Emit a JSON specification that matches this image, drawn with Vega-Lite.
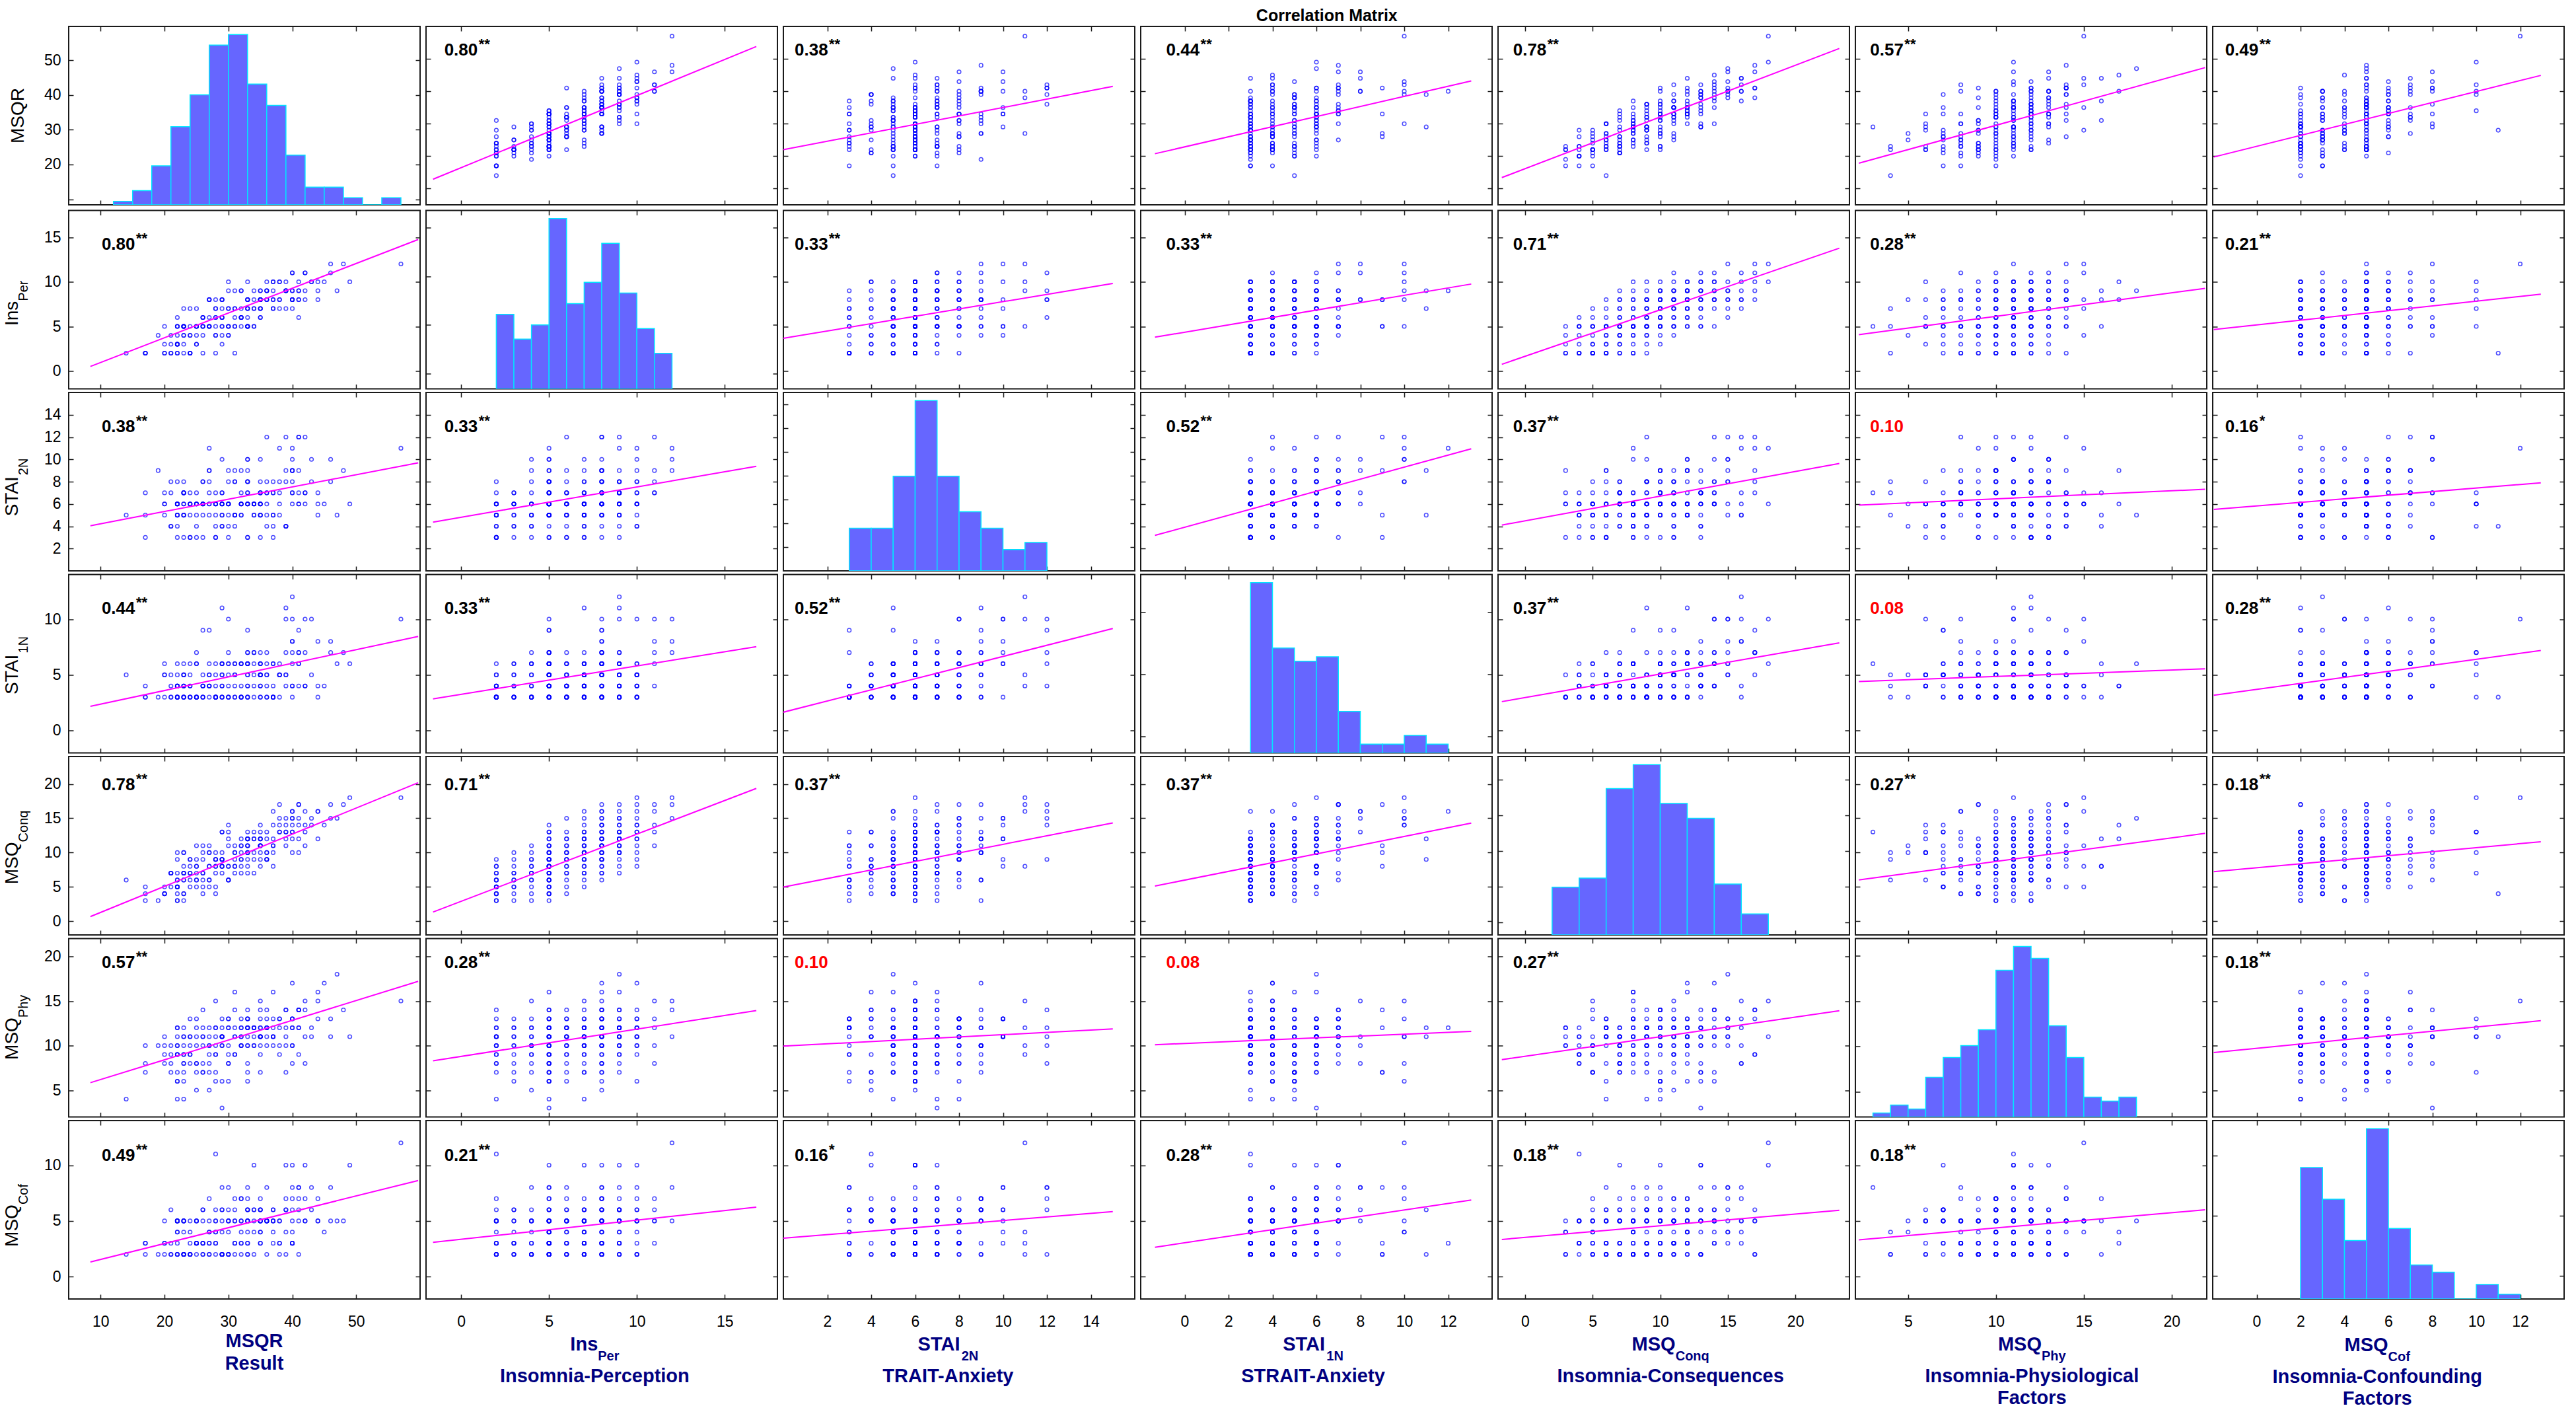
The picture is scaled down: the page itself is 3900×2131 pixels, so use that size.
{
"$schema":"https://vega.github.io/schema/vega-lite/v6.json",
"background":"#FFFFFF",
"padding":{"left":3,"top":12,"right":5,"bottom":0},
"title":{"text":"Correlation Matrix","fontSize":25,"fontWeight":"bold","font":"Liberation Sans","color":"#000000","anchor":"middle","dx":65,"offset":1},
"datasets":{"d":[
{"MSQR":17,"Ins":2,"S2":3,"S1":3,"Conq":3,"Phy":10,"Cof":2},
{"MSQR":22,"Ins":2,"S2":6,"S1":3,"Conq":3,"Phy":12,"Cof":5},
{"MSQR":17,"Ins":2,"S2":5,"S1":4,"Conq":4,"Phy":8,"Cof":3},
{"MSQR":28,"Ins":2,"S2":4,"S1":3,"Conq":4,"Phy":11,"Cof":11},
{"MSQR":20,"Ins":2,"S2":6,"S1":5,"Conq":4,"Phy":9,"Cof":5},
{"MSQR":24,"Ins":2,"S2":3,"S1":3,"Conq":5,"Phy":13,"Cof":4},
{"MSQR":20,"Ins":2,"S2":5,"S1":3,"Conq":5,"Phy":11,"Cof":2},
{"MSQR":17,"Ins":2,"S2":7,"S1":3,"Conq":5,"Phy":7,"Cof":3},
{"MSQR":22,"Ins":2,"S2":6,"S1":4,"Conq":5,"Phy":10,"Cof":5},
{"MSQR":26,"Ins":2,"S2":3,"S1":4,"Conq":6,"Phy":12,"Cof":6},
{"MSQR":14,"Ins":2,"S2":5,"S1":5,"Conq":6,"Phy":4,"Cof":2},
{"MSQR":24,"Ins":2,"S2":6,"S1":3,"Conq":6,"Phy":11,"Cof":5},
{"MSQR":21,"Ins":2,"S2":4,"S1":4,"Conq":7,"Phy":9,"Cof":3},
{"MSQR":21,"Ins":2,"S2":8,"S1":3,"Conq":7,"Phy":10,"Cof":2},
{"MSQR":31,"Ins":2,"S2":5,"S1":3,"Conq":8,"Phy":14,"Cof":7},
{"MSQR":23,"Ins":2,"S2":6,"S1":6,"Conq":8,"Phy":8,"Cof":5},
{"MSQR":24,"Ins":2,"S2":3,"S1":3,"Conq":9,"Phy":11,"Cof":2},
{"MSQR":22,"Ins":3,"S2":6,"S1":3,"Conq":3,"Phy":12,"Cof":4},
{"MSQR":20,"Ins":3,"S2":7,"S1":6,"Conq":4,"Phy":10,"Cof":3},
{"MSQR":21,"Ins":3,"S2":4,"S1":5,"Conq":5,"Phy":7,"Cof":6},
{"MSQR":22,"Ins":3,"S2":5,"S1":3,"Conq":5,"Phy":9,"Cof":5},
{"MSQR":22,"Ins":3,"S2":6,"S1":4,"Conq":6,"Phy":11,"Cof":2},
{"MSQR":25,"Ins":3,"S2":3,"S1":3,"Conq":6,"Phy":13,"Cof":3},
{"MSQR":22,"Ins":3,"S2":6,"S1":3,"Conq":7,"Phy":10,"Cof":2},
{"MSQR":23,"Ins":3,"S2":7,"S1":4,"Conq":7,"Phy":8,"Cof":5},
{"MSQR":25,"Ins":3,"S2":5,"S1":6,"Conq":8,"Phy":12,"Cof":2},
{"MSQR":29,"Ins":3,"S2":4,"S1":3,"Conq":9,"Phy":11,"Cof":6},
{"MSQR":22,"Ins":3,"S2":6,"S1":5,"Conq":10,"Phy":6,"Cof":3},
{"MSQR":19,"Ins":4,"S2":9,"S1":3,"Conq":3,"Phy":10,"Cof":2},
{"MSQR":22,"Ins":4,"S2":5,"S1":4,"Conq":4,"Phy":9,"Cof":5},
{"MSQR":28,"Ins":4,"S2":6,"S1":3,"Conq":5,"Phy":15,"Cof":4},
{"MSQR":23,"Ins":4,"S2":8,"S1":5,"Conq":6,"Phy":11,"Cof":2},
{"MSQR":30,"Ins":4,"S2":3,"S1":7,"Conq":6,"Phy":12,"Cof":8},
{"MSQR":23,"Ins":4,"S2":5,"S1":5,"Conq":7,"Phy":7,"Cof":5},
{"MSQR":24,"Ins":4,"S2":6,"S1":6,"Conq":7,"Phy":10,"Cof":3},
{"MSQR":21,"Ins":4,"S2":7,"S1":3,"Conq":7,"Phy":8,"Cof":2},
{"MSQR":30,"Ins":4,"S2":4,"S1":6,"Conq":8,"Phy":13,"Cof":5},
{"MSQR":29,"Ins":4,"S2":10,"S1":6,"Conq":8,"Phy":11,"Cof":6},
{"MSQR":24,"Ins":4,"S2":6,"S1":4,"Conq":9,"Phy":9,"Cof":2},
{"MSQR":28,"Ins":4,"S2":5,"S1":3,"Conq":9,"Phy":12,"Cof":3},
{"MSQR":26,"Ins":4,"S2":6,"S1":3,"Conq":10,"Phy":10,"Cof":2},
{"MSQR":25,"Ins":4,"S2":4,"S1":3,"Conq":11,"Phy":5,"Cof":5},
{"MSQR":23,"Ins":5,"S2":7,"S1":5,"Conq":3,"Phy":11,"Cof":4},
{"MSQR":20,"Ins":5,"S2":6,"S1":5,"Conq":4,"Phy":8,"Cof":3},
{"MSQR":23,"Ins":5,"S2":3,"S1":3,"Conq":4,"Phy":12,"Cof":2},
{"MSQR":23,"Ins":5,"S2":5,"S1":4,"Conq":4,"Phy":9,"Cof":5},
{"MSQR":27,"Ins":5,"S2":8,"S1":6,"Conq":5,"Phy":10,"Cof":7},
{"MSQR":26,"Ins":5,"S2":6,"S1":4,"Conq":5,"Phy":14,"Cof":2},
{"MSQR":22,"Ins":5,"S2":5,"S1":6,"Conq":5,"Phy":7,"Cof":5},
{"MSQR":25,"Ins":5,"S2":6,"S1":3,"Conq":6,"Phy":11,"Cof":3},
{"MSQR":30,"Ins":5,"S2":9,"S1":5,"Conq":6,"Phy":13,"Cof":6},
{"MSQR":23,"Ins":5,"S2":7,"S1":3,"Conq":6,"Phy":10,"Cof":2},
{"MSQR":22,"Ins":5,"S2":4,"S1":4,"Conq":6,"Phy":6,"Cof":5},
{"MSQR":34,"Ins":5,"S2":6,"S1":7,"Conq":7,"Phy":12,"Cof":10},
{"MSQR":23,"Ins":5,"S2":5,"S1":3,"Conq":7,"Phy":9,"Cof":2},
{"MSQR":26,"Ins":5,"S2":8,"S1":3,"Conq":7,"Phy":11,"Cof":3},
{"MSQR":25,"Ins":5,"S2":6,"S1":6,"Conq":7,"Phy":8,"Cof":5},
{"MSQR":27,"Ins":5,"S2":11,"S1":4,"Conq":8,"Phy":10,"Cof":4},
{"MSQR":31,"Ins":5,"S2":5,"S1":5,"Conq":8,"Phy":16,"Cof":2},
{"MSQR":33,"Ins":5,"S2":3,"S1":9,"Conq":8,"Phy":12,"Cof":8},
{"MSQR":25,"Ins":5,"S2":6,"S1":3,"Conq":8,"Phy":7,"Cof":5},
{"MSQR":27,"Ins":5,"S2":7,"S1":4,"Conq":8,"Phy":11,"Cof":3},
{"MSQR":24,"Ins":5,"S2":5,"S1":4,"Conq":8,"Phy":9,"Cof":2},
{"MSQR":33,"Ins":5,"S2":10,"S1":3,"Conq":9,"Phy":13,"Cof":6},
{"MSQR":29,"Ins":5,"S2":6,"S1":5,"Conq":9,"Phy":10,"Cof":5},
{"MSQR":22,"Ins":5,"S2":8,"S1":4,"Conq":9,"Phy":4,"Cof":4},
{"MSQR":28,"Ins":5,"S2":6,"S1":3,"Conq":9,"Phy":12,"Cof":2},
{"MSQR":25,"Ins":5,"S2":7,"S1":7,"Conq":9,"Phy":8,"Cof":3},
{"MSQR":31,"Ins":5,"S2":5,"S1":6,"Conq":10,"Phy":11,"Cof":5},
{"MSQR":23,"Ins":5,"S2":6,"S1":4,"Conq":10,"Phy":6,"Cof":2},
{"MSQR":32,"Ins":5,"S2":9,"S1":6,"Conq":10,"Phy":10,"Cof":7},
{"MSQR":33,"Ins":5,"S2":7,"S1":5,"Conq":10,"Phy":14,"Cof":4},
{"MSQR":27,"Ins":5,"S2":6,"S1":5,"Conq":11,"Phy":9,"Cof":2},
{"MSQR":33,"Ins":5,"S2":8,"S1":7,"Conq":11,"Phy":12,"Cof":5},
{"MSQR":26,"Ins":5,"S2":5,"S1":9,"Conq":11,"Phy":7,"Cof":3},
{"MSQR":34,"Ins":5,"S2":6,"S1":7,"Conq":12,"Phy":11,"Cof":6},
{"MSQR":33,"Ins":5,"S2":10,"S1":6,"Conq":12,"Phy":13,"Cof":3},
{"MSQR":29,"Ins":5,"S2":7,"S1":6,"Conq":13,"Phy":3,"Cof":8},
{"MSQR":30,"Ins":5,"S2":6,"S1":6,"Conq":13,"Phy":8,"Cof":4},
{"MSQR":30,"Ins":5,"S2":8,"S1":10,"Conq":14,"Phy":6,"Cof":5},
{"MSQR":26,"Ins":6,"S2":6,"S1":3,"Conq":4,"Phy":11,"Cof":5},
{"MSQR":22,"Ins":6,"S2":3,"S1":3,"Conq":5,"Phy":9,"Cof":2},
{"MSQR":27,"Ins":6,"S2":5,"S1":4,"Conq":6,"Phy":12,"Cof":3},
{"MSQR":28,"Ins":6,"S2":7,"S1":3,"Conq":7,"Phy":10,"Cof":5},
{"MSQR":26,"Ins":6,"S2":6,"S1":5,"Conq":7,"Phy":7,"Cof":6},
{"MSQR":29,"Ins":6,"S2":4,"S1":3,"Conq":8,"Phy":13,"Cof":2},
{"MSQR":29,"Ins":6,"S2":6,"S1":4,"Conq":8,"Phy":11,"Cof":4},
{"MSQR":32,"Ins":6,"S2":5,"S1":3,"Conq":9,"Phy":12,"Cof":5},
{"MSQR":26,"Ins":6,"S2":8,"S1":4,"Conq":9,"Phy":8,"Cof":3},
{"MSQR":32,"Ins":6,"S2":6,"S1":3,"Conq":9,"Phy":10,"Cof":7},
{"MSQR":35,"Ins":6,"S2":5,"S1":5,"Conq":10,"Phy":14,"Cof":5},
{"MSQR":29,"Ins":6,"S2":7,"S1":6,"Conq":10,"Phy":11,"Cof":2},
{"MSQR":28,"Ins":6,"S2":3,"S1":4,"Conq":10,"Phy":6,"Cof":6},
{"MSQR":32,"Ins":6,"S2":6,"S1":6,"Conq":11,"Phy":12,"Cof":3},
{"MSQR":31,"Ins":6,"S2":9,"S1":5,"Conq":11,"Phy":9,"Cof":5},
{"MSQR":32,"Ins":6,"S2":5,"S1":3,"Conq":12,"Phy":10,"Cof":4},
{"MSQR":33,"Ins":6,"S2":6,"S1":7,"Conq":12,"Phy":13,"Cof":2},
{"MSQR":35,"Ins":6,"S2":7,"S1":4,"Conq":13,"Phy":11,"Cof":5},
{"MSQR":41,"Ins":6,"S2":12,"S1":6,"Conq":15,"Phy":12,"Cof":8},
{"MSQR":25,"Ins":7,"S2":6,"S1":3,"Conq":5,"Phy":10,"Cof":3},
{"MSQR":30,"Ins":7,"S2":5,"S1":4,"Conq":6,"Phy":12,"Cof":5},
{"MSQR":24,"Ins":7,"S2":7,"S1":5,"Conq":7,"Phy":8,"Cof":2},
{"MSQR":31,"Ins":7,"S2":4,"S1":4,"Conq":7,"Phy":11,"Cof":6},
{"MSQR":35,"Ins":7,"S2":6,"S1":4,"Conq":8,"Phy":15,"Cof":5},
{"MSQR":28,"Ins":7,"S2":3,"S1":3,"Conq":8,"Phy":9,"Cof":4},
{"MSQR":31,"Ins":7,"S2":8,"S1":3,"Conq":9,"Phy":12,"Cof":3},
{"MSQR":29,"Ins":7,"S2":5,"S1":11,"Conq":9,"Phy":11,"Cof":2},
{"MSQR":28,"Ins":7,"S2":6,"S1":5,"Conq":9,"Phy":7,"Cof":5},
{"MSQR":40,"Ins":7,"S2":6,"S1":3,"Conq":10,"Phy":13,"Cof":10},
{"MSQR":33,"Ins":7,"S2":9,"S1":6,"Conq":10,"Phy":10,"Cof":6},
{"MSQR":34,"Ins":7,"S2":5,"S1":5,"Conq":10,"Phy":12,"Cof":5},
{"MSQR":23,"Ins":7,"S2":7,"S1":3,"Conq":10,"Phy":4,"Cof":2},
{"MSQR":32,"Ins":7,"S2":6,"S1":6,"Conq":11,"Phy":11,"Cof":3},
{"MSQR":39,"Ins":7,"S2":4,"S1":5,"Conq":11,"Phy":14,"Cof":7},
{"MSQR":33,"Ins":7,"S2":8,"S1":6,"Conq":11,"Phy":10,"Cof":5},
{"MSQR":35,"Ins":7,"S2":5,"S1":6,"Conq":12,"Phy":12,"Cof":4},
{"MSQR":30,"Ins":7,"S2":6,"S1":3,"Conq":12,"Phy":9,"Cof":2},
{"MSQR":35,"Ins":7,"S2":10,"S1":7,"Conq":12,"Phy":11,"Cof":5},
{"MSQR":34,"Ins":7,"S2":6,"S1":4,"Conq":13,"Phy":12,"Cof":2},
{"MSQR":33,"Ins":7,"S2":3,"S1":4,"Conq":13,"Phy":7,"Cof":6},
{"MSQR":37,"Ins":7,"S2":7,"S1":4,"Conq":14,"Phy":11,"Cof":5},
{"MSQR":38,"Ins":7,"S2":6,"S1":5,"Conq":15,"Phy":13,"Cof":3},
{"MSQR":37,"Ins":7,"S2":5,"S1":3,"Conq":16,"Phy":10,"Cof":4},
{"MSQR":27,"Ins":8,"S2":9,"S1":3,"Conq":6,"Phy":8,"Cof":5},
{"MSQR":29,"Ins":8,"S2":6,"S1":3,"Conq":7,"Phy":12,"Cof":2},
{"MSQR":33,"Ins":8,"S2":7,"S1":6,"Conq":7,"Phy":11,"Cof":7},
{"MSQR":37,"Ins":8,"S2":4,"S1":6,"Conq":8,"Phy":16,"Cof":5},
{"MSQR":28,"Ins":8,"S2":6,"S1":6,"Conq":8,"Phy":9,"Cof":3},
{"MSQR":35,"Ins":8,"S2":8,"S1":5,"Conq":9,"Phy":12,"Cof":6},
{"MSQR":29,"Ins":8,"S2":5,"S1":4,"Conq":9,"Phy":10,"Cof":2},
{"MSQR":36,"Ins":8,"S2":7,"S1":3,"Conq":9,"Phy":14,"Cof":5},
{"MSQR":36,"Ins":8,"S2":12,"S1":4,"Conq":9,"Phy":11,"Cof":8},
{"MSQR":27,"Ins":8,"S2":6,"S1":5,"Conq":10,"Phy":5,"Cof":4},
{"MSQR":36,"Ins":8,"S2":8,"S1":7,"Conq":10,"Phy":13,"Cof":5},
{"MSQR":33,"Ins":8,"S2":6,"S1":3,"Conq":10,"Phy":12,"Cof":3},
{"MSQR":27,"Ins":8,"S2":9,"S1":9,"Conq":10,"Phy":7,"Cof":2},
{"MSQR":35,"Ins":8,"S2":5,"S1":5,"Conq":11,"Phy":10,"Cof":6},
{"MSQR":35,"Ins":8,"S2":6,"S1":3,"Conq":11,"Phy":11,"Cof":5},
{"MSQR":35,"Ins":8,"S2":3,"S1":3,"Conq":11,"Phy":13,"Cof":3},
{"MSQR":35,"Ins":8,"S2":7,"S1":5,"Conq":11,"Phy":9,"Cof":7},
{"MSQR":33,"Ins":8,"S2":6,"S1":4,"Conq":11,"Phy":12,"Cof":2},
{"MSQR":33,"Ins":8,"S2":8,"S1":3,"Conq":12,"Phy":8,"Cof":5},
{"MSQR":37,"Ins":8,"S2":5,"S1":6,"Conq":12,"Phy":11,"Cof":6},
{"MSQR":34,"Ins":8,"S2":6,"S1":6,"Conq":12,"Phy":10,"Cof":4},
{"MSQR":40,"Ins":8,"S2":9,"S1":4,"Conq":12,"Phy":17,"Cof":3},
{"MSQR":38,"Ins":8,"S2":5,"S1":3,"Conq":13,"Phy":12,"Cof":5},
{"MSQR":29,"Ins":8,"S2":6,"S1":5,"Conq":13,"Phy":6,"Cof":2},
{"MSQR":42,"Ins":8,"S2":7,"S1":7,"Conq":13,"Phy":11,"Cof":10},
{"MSQR":41,"Ins":8,"S2":6,"S1":7,"Conq":14,"Phy":14,"Cof":5},
{"MSQR":38,"Ins":8,"S2":8,"S1":6,"Conq":14,"Phy":13,"Cof":3},
{"MSQR":35,"Ins":8,"S2":6,"S1":6,"Conq":14,"Phy":7,"Cof":6},
{"MSQR":40,"Ins":8,"S2":10,"S1":10,"Conq":15,"Phy":13,"Cof":4},
{"MSQR":40,"Ins":8,"S2":9,"S1":7,"Conq":15,"Phy":10,"Cof":7},
{"MSQR":44,"Ins":8,"S2":6,"S1":8,"Conq":16,"Phy":15,"Cof":5},
{"MSQR":40,"Ins":8,"S2":7,"S1":8,"Conq":16,"Phy":8,"Cof":8},
{"MSQR":41,"Ins":8,"S2":12,"S1":9,"Conq":17,"Phy":14,"Cof":2},
{"MSQR":32,"Ins":9,"S2":6,"S1":3,"Conq":7,"Phy":11,"Cof":5},
{"MSQR":32,"Ins":9,"S2":7,"S1":4,"Conq":8,"Phy":13,"Cof":2},
{"MSQR":34,"Ins":9,"S2":5,"S1":3,"Conq":9,"Phy":10,"Cof":6},
{"MSQR":36,"Ins":9,"S2":6,"S1":5,"Conq":10,"Phy":12,"Cof":5},
{"MSQR":31,"Ins":9,"S2":8,"S1":6,"Conq":10,"Phy":9,"Cof":3},
{"MSQR":41,"Ins":9,"S2":6,"S1":4,"Conq":10,"Phy":14,"Cof":8},
{"MSQR":37,"Ins":9,"S2":3,"S1":3,"Conq":11,"Phy":12,"Cof":5},
{"MSQR":35,"Ins":9,"S2":7,"S1":5,"Conq":11,"Phy":11,"Cof":4},
{"MSQR":30,"Ins":9,"S2":6,"S1":3,"Conq":11,"Phy":8,"Cof":2},
{"MSQR":39,"Ins":9,"S2":9,"S1":11,"Conq":12,"Phy":12,"Cof":6},
{"MSQR":36,"Ins":9,"S2":5,"S1":5,"Conq":12,"Phy":10,"Cof":5},
{"MSQR":44,"Ins":9,"S2":7,"S1":3,"Conq":12,"Phy":16,"Cof":7},
{"MSQR":35,"Ins":9,"S2":6,"S1":6,"Conq":12,"Phy":11,"Cof":3},
{"MSQR":40,"Ins":9,"S2":8,"S1":4,"Conq":13,"Phy":13,"Cof":5},
{"MSQR":39,"Ins":9,"S2":4,"S1":5,"Conq":13,"Phy":7,"Cof":10},
{"MSQR":36,"Ins":9,"S2":7,"S1":6,"Conq":13,"Phy":12,"Cof":2},
{"MSQR":39,"Ins":9,"S2":12,"S1":7,"Conq":14,"Phy":10,"Cof":6},
{"MSQR":42,"Ins":9,"S2":6,"S1":4,"Conq":14,"Phy":14,"Cof":5},
{"MSQR":39,"Ins":9,"S2":8,"S1":10,"Conq":15,"Phy":11,"Cof":4},
{"MSQR":47,"Ins":9,"S2":5,"S1":6,"Conq":15,"Phy":18,"Cof":5},
{"MSQR":40,"Ins":9,"S2":11,"S1":12,"Conq":16,"Phy":12,"Cof":3},
{"MSQR":41,"Ins":9,"S2":7,"S1":7,"Conq":17,"Phy":9,"Cof":6},
{"MSQR":30,"Ins":10,"S2":6,"S1":3,"Conq":8,"Phy":10,"Cof":2},
{"MSQR":36,"Ins":10,"S2":4,"S1":3,"Conq":9,"Phy":12,"Cof":5},
{"MSQR":37,"Ins":10,"S2":7,"S1":3,"Conq":10,"Phy":11,"Cof":6},
{"MSQR":37,"Ins":10,"S2":8,"S1":3,"Conq":11,"Phy":13,"Cof":3},
{"MSQR":33,"Ins":10,"S2":6,"S1":5,"Conq":12,"Phy":6,"Cof":5},
{"MSQR":41,"Ins":10,"S2":9,"S1":6,"Conq":12,"Phy":12,"Cof":7},
{"MSQR":39,"Ins":10,"S2":4,"S1":4,"Conq":13,"Phy":14,"Cof":2},
{"MSQR":38,"Ins":10,"S2":7,"S1":5,"Conq":13,"Phy":10,"Cof":5},
{"MSQR":43,"Ins":10,"S2":10,"S1":10,"Conq":14,"Phy":11,"Cof":8},
{"MSQR":45,"Ins":10,"S2":6,"S1":4,"Conq":14,"Phy":17,"Cof":4},
{"MSQR":43,"Ins":10,"S2":8,"S1":5,"Conq":15,"Phy":12,"Cof":6},
{"MSQR":44,"Ins":10,"S2":5,"S1":4,"Conq":16,"Phy":13,"Cof":5},
{"MSQR":38,"Ins":10,"S2":11,"S1":5,"Conq":17,"Phy":9,"Cof":2},
{"MSQR":49,"Ins":10,"S2":6,"S1":6,"Conq":18,"Phy":11,"Cof":10},
{"MSQR":42,"Ins":11,"S2":7,"S1":4,"Conq":11,"Phy":15,"Cof":5},
{"MSQR":40,"Ins":11,"S2":9,"S1":8,"Conq":13,"Phy":10,"Cof":6},
{"MSQR":40,"Ins":11,"S2":7,"S1":6,"Conq":14,"Phy":12,"Cof":3},
{"MSQR":42,"Ins":11,"S2":12,"S1":10,"Conq":16,"Phy":8,"Cof":7},
{"MSQR":46,"Ins":11,"S2":8,"S1":7,"Conq":17,"Phy":13,"Cof":5},
{"MSQR":46,"Ins":12,"S2":10,"S1":8,"Conq":15,"Phy":11,"Cof":8},
{"MSQR":48,"Ins":12,"S2":9,"S1":7,"Conq":17,"Phy":14,"Cof":5},
{"MSQR":57,"Ins":12,"S2":11,"S1":10,"Conq":18,"Phy":15,"Cof":12}
]},
"columns":7,
"spacing":{"row":1.5,"column":5},
"align":"each",
"concat":[
{"width":532,"height":270,"data":{"values":[{"b0":12,"b1":15,"n":1},{"b0":15,"b1":18,"n":4},{"b0":18,"b1":21,"n":11},{"b0":21,"b1":24,"n":22},{"b0":24,"b1":27,"n":31},{"b0":27,"b1":30,"n":45},{"b0":30,"b1":33,"n":48},{"b0":33,"b1":36,"n":34},{"b0":36,"b1":39,"n":28},{"b0":39,"b1":42,"n":14},{"b0":42,"b1":45,"n":5},{"b0":45,"b1":48,"n":5},{"b0":48,"b1":51,"n":2},{"b0":51,"b1":54,"n":0},{"b0":54,"b1":57,"n":2}]},"resolve":{"scale":{"y":"independent"},"axis":{"x":"independent","y":"independent"}},"layer":[
{"mark":{"type":"bar","clip":true},"encoding":{"x":{"field":"b0","type":"quantitative","scale":{"domain":[8.4,59.7]},"axis":{"values":[10,20,30,40,50],"title":null}},"x2":{"field":"b1"},"y":{"field":"n","type":"quantitative","scale":{"domain":[0,50.26]},"axis":null},"y2":{"datum":0}}},
{"mark":{"type":"point","opacity":0},"encoding":{"x":{"datum":34.05,"axis":{"orient":"top","values":[10,20,30,40,50],"title":null}},"y":{"datum":34.05,"scale":{"domain":[8.4,59.7]},"axis":{"values":[10,20,30,40,50],"title":null,"labels":true,"labelExpr":"datum.value==10?'':datum.label"}}}},
{"mark":{"type":"point","opacity":0},"encoding":{"x":{"datum":34.05,"axis":null},"y":{"datum":34.05,"scale":{"domain":[8.4,59.7]},"axis":{"orient":"right","values":[10,20,30,40,50],"title":null}}}},
{"data":{"values":[{"m":"MSQR"}]},"mark":{"type":"text","angle":270,"align":"center","baseline":"alphabetic","dy":-101,"fontSize":28},"encoding":{"x":{"datum":8.4,"axis":null},"y":{"datum":34.05,"scale":{"domain":[8.4,59.7]},"axis":null},"text":{"field":"m"}}}
]},
{"width":532,"height":270,"data":{"values":[{"t":"0.80","s":"**"}]},"resolve":{"axis":{"x":"independent","y":"independent"}},"layer":[
{"data":{"name":"d"},"mark":"point","encoding":{"x":{"field":"Ins","type":"quantitative","scale":{"domain":[-1.6,16.8]},"axis":{"values":[0,5,10,15],"title":null}},"y":{"field":"MSQR","type":"quantitative","scale":{"domain":[8.4,59.7]},"axis":{"values":[10,20,30,40,50],"title":null}}}},
{"data":{"values":[{"x":-1.6,"y":12.9},{"x":16.8,"y":53.8}]},"mark":{"type":"line","clip":true},"encoding":{"x":{"field":"x","type":"quantitative","axis":{"orient":"top","values":[0,5,10,15],"title":null}},"y":{"field":"y","type":"quantitative","axis":{"orient":"right","values":[10,20,30,40,50],"title":null}}}},
{"mark":{"type":"text","align":"left","baseline":"alphabetic","dx":17,"dy":43,"fontSize":26,"fontWeight":"bold"},"encoding":{"x":{"datum":-1.6,"axis":null},"y":{"datum":59.7,"axis":null},"text":{"field":"t"}}},
{"mark":{"type":"text","align":"left","baseline":"alphabetic","dx":69,"dy":33,"fontSize":22,"fontWeight":"bold"},"encoding":{"x":{"datum":-1.6,"axis":null},"y":{"datum":59.7,"axis":null},"text":{"field":"s"}}}
]},
{"width":532,"height":270,"data":{"values":[{"t":"0.38","s":"**"}]},"resolve":{"axis":{"x":"independent","y":"independent"}},"layer":[
{"data":{"name":"d"},"mark":"point","encoding":{"x":{"field":"S2","type":"quantitative","scale":{"domain":[0,15]},"axis":{"values":[2,4,6,8,10,12,14],"title":null}},"y":{"field":"MSQR","type":"quantitative","scale":{"domain":[8.4,59.7]},"axis":{"values":[10,20,30,40,50],"title":null}}}},
{"data":{"values":[{"x":0,"y":22.0},{"x":15,"y":41.5}]},"mark":{"type":"line","clip":true},"encoding":{"x":{"field":"x","type":"quantitative","axis":{"orient":"top","values":[2,4,6,8,10,12,14],"title":null}},"y":{"field":"y","type":"quantitative","axis":{"orient":"right","values":[10,20,30,40,50],"title":null}}}},
{"mark":{"type":"text","align":"left","baseline":"alphabetic","dx":17,"dy":43,"fontSize":26,"fontWeight":"bold"},"encoding":{"x":{"datum":0,"axis":null},"y":{"datum":59.7,"axis":null},"text":{"field":"t"}}},
{"mark":{"type":"text","align":"left","baseline":"alphabetic","dx":69,"dy":33,"fontSize":22,"fontWeight":"bold"},"encoding":{"x":{"datum":0,"axis":null},"y":{"datum":59.7,"axis":null},"text":{"field":"s"}}}
]},
{"width":532,"height":270,"data":{"values":[{"t":"0.44","s":"**"}]},"resolve":{"axis":{"x":"independent","y":"independent"}},"layer":[
{"data":{"name":"d"},"mark":"point","encoding":{"x":{"field":"S1","type":"quantitative","scale":{"domain":[-1.35,13.05]},"axis":{"values":[0,2,4,6,8,10,12],"title":null}},"y":{"field":"MSQR","type":"quantitative","scale":{"domain":[8.4,59.7]},"axis":{"values":[10,20,30,40,50],"title":null}}}},
{"data":{"values":[{"x":-1.35,"y":20.76},{"x":13.05,"y":43.2}]},"mark":{"type":"line","clip":true},"encoding":{"x":{"field":"x","type":"quantitative","axis":{"orient":"top","values":[0,2,4,6,8,10,12],"title":null}},"y":{"field":"y","type":"quantitative","axis":{"orient":"right","values":[10,20,30,40,50],"title":null}}}},
{"mark":{"type":"text","align":"left","baseline":"alphabetic","dx":17,"dy":43,"fontSize":26,"fontWeight":"bold"},"encoding":{"x":{"datum":-1.35,"axis":null},"y":{"datum":59.7,"axis":null},"text":{"field":"t"}}},
{"mark":{"type":"text","align":"left","baseline":"alphabetic","dx":69,"dy":33,"fontSize":22,"fontWeight":"bold"},"encoding":{"x":{"datum":-1.35,"axis":null},"y":{"datum":59.7,"axis":null},"text":{"field":"s"}}}
]},
{"width":532,"height":270,"data":{"values":[{"t":"0.78","s":"**"}]},"resolve":{"axis":{"x":"independent","y":"independent"}},"layer":[
{"data":{"name":"d"},"mark":"point","encoding":{"x":{"field":"Conq","type":"quantitative","scale":{"domain":[-1.72,23.25]},"axis":{"values":[0,5,10,15,20],"title":null}},"y":{"field":"MSQR","type":"quantitative","scale":{"domain":[8.4,59.7]},"axis":{"values":[10,20,30,40,50],"title":null}}}},
{"data":{"values":[{"x":-1.72,"y":13.4},{"x":23.25,"y":53.2}]},"mark":{"type":"line","clip":true},"encoding":{"x":{"field":"x","type":"quantitative","axis":{"orient":"top","values":[0,5,10,15,20],"title":null}},"y":{"field":"y","type":"quantitative","axis":{"orient":"right","values":[10,20,30,40,50],"title":null}}}},
{"mark":{"type":"text","align":"left","baseline":"alphabetic","dx":17,"dy":43,"fontSize":26,"fontWeight":"bold"},"encoding":{"x":{"datum":-1.72,"axis":null},"y":{"datum":59.7,"axis":null},"text":{"field":"t"}}},
{"mark":{"type":"text","align":"left","baseline":"alphabetic","dx":69,"dy":33,"fontSize":22,"fontWeight":"bold"},"encoding":{"x":{"datum":-1.72,"axis":null},"y":{"datum":59.7,"axis":null},"text":{"field":"s"}}}
]},
{"width":532,"height":270,"data":{"values":[{"t":"0.57","s":"**"}]},"resolve":{"axis":{"x":"independent","y":"independent"}},"layer":[
{"data":{"name":"d"},"mark":"point","encoding":{"x":{"field":"Phy","type":"quantitative","scale":{"domain":[2.2,21.9]},"axis":{"values":[5,10,15,20],"title":null}},"y":{"field":"MSQR","type":"quantitative","scale":{"domain":[8.4,59.7]},"axis":{"values":[10,20,30,40,50],"title":null}}}},
{"data":{"values":[{"x":2.2,"y":17.85},{"x":21.9,"y":47.3}]},"mark":{"type":"line","clip":true},"encoding":{"x":{"field":"x","type":"quantitative","axis":{"orient":"top","values":[5,10,15,20],"title":null}},"y":{"field":"y","type":"quantitative","axis":{"orient":"right","values":[10,20,30,40,50],"title":null}}}},
{"mark":{"type":"text","align":"left","baseline":"alphabetic","dx":17,"dy":43,"fontSize":26,"fontWeight":"bold"},"encoding":{"x":{"datum":2.2,"axis":null},"y":{"datum":59.7,"axis":null},"text":{"field":"t"}}},
{"mark":{"type":"text","align":"left","baseline":"alphabetic","dx":69,"dy":33,"fontSize":22,"fontWeight":"bold"},"encoding":{"x":{"datum":2.2,"axis":null},"y":{"datum":59.7,"axis":null},"text":{"field":"s"}}}
]},
{"width":532,"height":270,"data":{"values":[{"t":"0.49","s":"**"}]},"resolve":{"axis":{"x":"independent","y":"independent"}},"layer":[
{"data":{"name":"d"},"mark":"point","encoding":{"x":{"field":"Cof","type":"quantitative","scale":{"domain":[-1.95,12.94]},"axis":{"values":[0,2,4,6,8,10,12],"title":null}},"y":{"field":"MSQR","type":"quantitative","scale":{"domain":[8.4,59.7]},"axis":{"values":[10,20,30,40,50],"title":null}}}},
{"data":{"values":[{"x":-1.95,"y":19.74},{"x":12.94,"y":44.9}]},"mark":{"type":"line","clip":true},"encoding":{"x":{"field":"x","type":"quantitative","axis":{"orient":"top","values":[0,2,4,6,8,10,12],"title":null}},"y":{"field":"y","type":"quantitative","axis":{"orient":"right","values":[10,20,30,40,50],"title":null}}}},
{"mark":{"type":"text","align":"left","baseline":"alphabetic","dx":17,"dy":43,"fontSize":26,"fontWeight":"bold"},"encoding":{"x":{"datum":-1.95,"axis":null},"y":{"datum":59.7,"axis":null},"text":{"field":"t"}}},
{"mark":{"type":"text","align":"left","baseline":"alphabetic","dx":69,"dy":33,"fontSize":22,"fontWeight":"bold"},"encoding":{"x":{"datum":-1.95,"axis":null},"y":{"datum":59.7,"axis":null},"text":{"field":"s"}}}
]},

{"width":532,"height":270,"data":{"values":[{"t":"0.80","s":"**"}]},"resolve":{"axis":{"x":"independent","y":"independent"}},"layer":[
{"data":{"name":"d"},"mark":"point","encoding":{"x":{"field":"MSQR","type":"quantitative","scale":{"domain":[8.4,59.7]},"axis":{"values":[10,20,30,40,50],"title":null}},"y":{"field":"Ins","type":"quantitative","scale":{"domain":[-1.6,16.8]},"axis":{"values":[0,5,10,15],"title":null,"labels":true}}}},
{"data":{"values":[{"x":8.4,"y":0.51},{"x":59.7,"y":14.74}]},"mark":{"type":"line","clip":true},"encoding":{"x":{"field":"x","type":"quantitative","axis":{"orient":"top","values":[10,20,30,40,50],"title":null}},"y":{"field":"y","type":"quantitative","axis":{"orient":"right","values":[0,5,10,15],"title":null}}}},
{"mark":{"type":"text","align":"left","baseline":"alphabetic","dx":17,"dy":43,"fontSize":26,"fontWeight":"bold"},"encoding":{"x":{"datum":8.4,"axis":null},"y":{"datum":16.8,"axis":null},"text":{"field":"t"}}},
{"mark":{"type":"text","align":"left","baseline":"alphabetic","dx":69,"dy":33,"fontSize":22,"fontWeight":"bold"},"encoding":{"x":{"datum":8.4,"axis":null},"y":{"datum":16.8,"axis":null},"text":{"field":"s"}}},
{"data":{"values":[{"m":"Ins","s":"Per"}]},"layer":[{"mark":{"type":"text","angle":270,"align":"left","baseline":"alphabetic","dx":-34.2,"dy":-110,"fontSize":28},"encoding":{"x":{"datum":8.4,"axis":null},"y":{"datum":7.6,"axis":null},"text":{"field":"m"}}},{"mark":{"type":"text","angle":270,"align":"left","baseline":"alphabetic","dx":3.2,"dy":-95,"fontSize":20},"encoding":{"x":{"datum":8.4,"axis":null},"y":{"datum":7.6,"axis":null},"text":{"field":"s"}}}]}
]},
{"width":532,"height":270,"data":{"values":[{"b0":2,"b1":3,"n":21},{"b0":3,"b1":4,"n":14},{"b0":4,"b1":5,"n":18},{"b0":5,"b1":6,"n":48},{"b0":6,"b1":7,"n":24},{"b0":7,"b1":8,"n":30},{"b0":8,"b1":9,"n":41},{"b0":9,"b1":10,"n":27},{"b0":10,"b1":11,"n":17},{"b0":11,"b1":12,"n":10}]},"resolve":{"scale":{"y":"independent"},"axis":{"x":"independent","y":"independent"}},"layer":[
{"mark":{"type":"bar","clip":true},"encoding":{"x":{"field":"b0","type":"quantitative","scale":{"domain":[-1.6,16.8]},"axis":{"values":[0,5,10,15],"title":null}},"x2":{"field":"b1"},"y":{"field":"n","type":"quantitative","scale":{"domain":[0,50.26]},"axis":null},"y2":{"datum":0}}},
{"mark":{"type":"point","opacity":0},"encoding":{"x":{"datum":7.6,"axis":{"orient":"top","values":[0,5,10,15],"title":null}},"y":{"datum":7.6,"scale":{"domain":[-1.6,16.8]},"axis":{"values":[0,5,10,15],"title":null}}}},
{"mark":{"type":"point","opacity":0},"encoding":{"x":{"datum":7.6,"axis":null},"y":{"datum":7.6,"scale":{"domain":[-1.6,16.8]},"axis":{"orient":"right","values":[0,5,10,15],"title":null}}}}
]},
{"width":532,"height":270,"data":{"values":[{"t":"0.33","s":"**"}]},"resolve":{"axis":{"x":"independent","y":"independent"}},"layer":[
{"data":{"name":"d"},"mark":"point","encoding":{"x":{"field":"S2","type":"quantitative","scale":{"domain":[0,15]},"axis":{"values":[2,4,6,8,10,12,14],"title":null}},"y":{"field":"Ins","type":"quantitative","scale":{"domain":[-1.6,16.8]},"axis":{"values":[0,5,10,15],"title":null}}}},
{"data":{"values":[{"x":0,"y":3.67},{"x":15,"y":9.82}]},"mark":{"type":"line","clip":true},"encoding":{"x":{"field":"x","type":"quantitative","axis":{"orient":"top","values":[2,4,6,8,10,12,14],"title":null}},"y":{"field":"y","type":"quantitative","axis":{"orient":"right","values":[0,5,10,15],"title":null}}}},
{"mark":{"type":"text","align":"left","baseline":"alphabetic","dx":17,"dy":43,"fontSize":26,"fontWeight":"bold"},"encoding":{"x":{"datum":0,"axis":null},"y":{"datum":16.8,"axis":null},"text":{"field":"t"}}},
{"mark":{"type":"text","align":"left","baseline":"alphabetic","dx":69,"dy":33,"fontSize":22,"fontWeight":"bold"},"encoding":{"x":{"datum":0,"axis":null},"y":{"datum":16.8,"axis":null},"text":{"field":"s"}}}
]},
{"width":532,"height":270,"data":{"values":[{"t":"0.33","s":"**"}]},"resolve":{"axis":{"x":"independent","y":"independent"}},"layer":[
{"data":{"name":"d"},"mark":"point","encoding":{"x":{"field":"S1","type":"quantitative","scale":{"domain":[-1.35,13.05]},"axis":{"values":[0,2,4,6,8,10,12],"title":null}},"y":{"field":"Ins","type":"quantitative","scale":{"domain":[-1.6,16.8]},"axis":{"values":[0,5,10,15],"title":null}}}},
{"data":{"values":[{"x":-1.35,"y":3.79},{"x":13.05,"y":9.75}]},"mark":{"type":"line","clip":true},"encoding":{"x":{"field":"x","type":"quantitative","axis":{"orient":"top","values":[0,2,4,6,8,10,12],"title":null}},"y":{"field":"y","type":"quantitative","axis":{"orient":"right","values":[0,5,10,15],"title":null}}}},
{"mark":{"type":"text","align":"left","baseline":"alphabetic","dx":17,"dy":43,"fontSize":26,"fontWeight":"bold"},"encoding":{"x":{"datum":-1.35,"axis":null},"y":{"datum":16.8,"axis":null},"text":{"field":"t"}}},
{"mark":{"type":"text","align":"left","baseline":"alphabetic","dx":69,"dy":33,"fontSize":22,"fontWeight":"bold"},"encoding":{"x":{"datum":-1.35,"axis":null},"y":{"datum":16.8,"axis":null},"text":{"field":"s"}}}
]},
{"width":532,"height":270,"data":{"values":[{"t":"0.71","s":"**"}]},"resolve":{"axis":{"x":"independent","y":"independent"}},"layer":[
{"data":{"name":"d"},"mark":"point","encoding":{"x":{"field":"Conq","type":"quantitative","scale":{"domain":[-1.72,23.25]},"axis":{"values":[0,5,10,15,20],"title":null}},"y":{"field":"Ins","type":"quantitative","scale":{"domain":[-1.6,16.8]},"axis":{"values":[0,5,10,15],"title":null}}}},
{"data":{"values":[{"x":-1.72,"y":0.75},{"x":23.25,"y":13.77}]},"mark":{"type":"line","clip":true},"encoding":{"x":{"field":"x","type":"quantitative","axis":{"orient":"top","values":[0,5,10,15,20],"title":null}},"y":{"field":"y","type":"quantitative","axis":{"orient":"right","values":[0,5,10,15],"title":null}}}},
{"mark":{"type":"text","align":"left","baseline":"alphabetic","dx":17,"dy":43,"fontSize":26,"fontWeight":"bold"},"encoding":{"x":{"datum":-1.72,"axis":null},"y":{"datum":16.8,"axis":null},"text":{"field":"t"}}},
{"mark":{"type":"text","align":"left","baseline":"alphabetic","dx":69,"dy":33,"fontSize":22,"fontWeight":"bold"},"encoding":{"x":{"datum":-1.72,"axis":null},"y":{"datum":16.8,"axis":null},"text":{"field":"s"}}}
]},
{"width":532,"height":270,"data":{"values":[{"t":"0.28","s":"**"}]},"resolve":{"axis":{"x":"independent","y":"independent"}},"layer":[
{"data":{"name":"d"},"mark":"point","encoding":{"x":{"field":"Phy","type":"quantitative","scale":{"domain":[2.2,21.9]},"axis":{"values":[5,10,15,20],"title":null}},"y":{"field":"Ins","type":"quantitative","scale":{"domain":[-1.6,16.8]},"axis":{"values":[0,5,10,15],"title":null}}}},
{"data":{"values":[{"x":2.2,"y":4.08},{"x":21.9,"y":9.26}]},"mark":{"type":"line","clip":true},"encoding":{"x":{"field":"x","type":"quantitative","axis":{"orient":"top","values":[5,10,15,20],"title":null}},"y":{"field":"y","type":"quantitative","axis":{"orient":"right","values":[0,5,10,15],"title":null}}}},
{"mark":{"type":"text","align":"left","baseline":"alphabetic","dx":17,"dy":43,"fontSize":26,"fontWeight":"bold"},"encoding":{"x":{"datum":2.2,"axis":null},"y":{"datum":16.8,"axis":null},"text":{"field":"t"}}},
{"mark":{"type":"text","align":"left","baseline":"alphabetic","dx":69,"dy":33,"fontSize":22,"fontWeight":"bold"},"encoding":{"x":{"datum":2.2,"axis":null},"y":{"datum":16.8,"axis":null},"text":{"field":"s"}}}
]},
{"width":532,"height":270,"data":{"values":[{"t":"0.21","s":"**"}]},"resolve":{"axis":{"x":"independent","y":"independent"}},"layer":[
{"data":{"name":"d"},"mark":"point","encoding":{"x":{"field":"Cof","type":"quantitative","scale":{"domain":[-1.95,12.94]},"axis":{"values":[0,2,4,6,8,10,12],"title":null}},"y":{"field":"Ins","type":"quantitative","scale":{"domain":[-1.6,16.8]},"axis":{"values":[0,5,10,15],"title":null}}}},
{"data":{"values":[{"x":-1.95,"y":4.64},{"x":12.94,"y":8.61}]},"mark":{"type":"line","clip":true},"encoding":{"x":{"field":"x","type":"quantitative","axis":{"orient":"top","values":[0,2,4,6,8,10,12],"title":null}},"y":{"field":"y","type":"quantitative","axis":{"orient":"right","values":[0,5,10,15],"title":null}}}},
{"mark":{"type":"text","align":"left","baseline":"alphabetic","dx":17,"dy":43,"fontSize":26,"fontWeight":"bold"},"encoding":{"x":{"datum":-1.95,"axis":null},"y":{"datum":16.8,"axis":null},"text":{"field":"t"}}},
{"mark":{"type":"text","align":"left","baseline":"alphabetic","dx":69,"dy":33,"fontSize":22,"fontWeight":"bold"},"encoding":{"x":{"datum":-1.95,"axis":null},"y":{"datum":16.8,"axis":null},"text":{"field":"s"}}}
]},

{"width":532,"height":270,"data":{"values":[{"t":"0.38","s":"**"}]},"resolve":{"axis":{"x":"independent","y":"independent"}},"layer":[
{"data":{"name":"d"},"mark":"point","encoding":{"x":{"field":"MSQR","type":"quantitative","scale":{"domain":[8.4,59.7]},"axis":{"values":[10,20,30,40,50],"title":null}},"y":{"field":"S2","type":"quantitative","scale":{"domain":[0,15]},"axis":{"values":[2,4,6,8,10,12,14],"title":null,"labels":true}}}},
{"data":{"values":[{"x":8.4,"y":4.05},{"x":59.7,"y":9.69}]},"mark":{"type":"line","clip":true},"encoding":{"x":{"field":"x","type":"quantitative","axis":{"orient":"top","values":[10,20,30,40,50],"title":null}},"y":{"field":"y","type":"quantitative","axis":{"orient":"right","values":[2,4,6,8,10,12,14],"title":null}}}},
{"mark":{"type":"text","align":"left","baseline":"alphabetic","dx":17,"dy":43,"fontSize":26,"fontWeight":"bold"},"encoding":{"x":{"datum":8.4,"axis":null},"y":{"datum":15,"axis":null},"text":{"field":"t"}}},
{"mark":{"type":"text","align":"left","baseline":"alphabetic","dx":69,"dy":33,"fontSize":22,"fontWeight":"bold"},"encoding":{"x":{"datum":8.4,"axis":null},"y":{"datum":15,"axis":null},"text":{"field":"s"}}},
{"data":{"values":[{"m":"STAI","s":"2N"}]},"layer":[{"mark":{"type":"text","angle":270,"align":"left","baseline":"alphabetic","dx":-43.9,"dy":-110,"fontSize":28},"encoding":{"x":{"datum":8.4,"axis":null},"y":{"datum":7.5,"axis":null},"text":{"field":"m"}}},{"mark":{"type":"text","angle":270,"align":"left","baseline":"alphabetic","dx":18.3,"dy":-95,"fontSize":20},"encoding":{"x":{"datum":8.4,"axis":null},"y":{"datum":7.5,"axis":null},"text":{"field":"s"}}}]}
]},
{"width":532,"height":270,"data":{"values":[{"t":"0.33","s":"**"}]},"resolve":{"axis":{"x":"independent","y":"independent"}},"layer":[
{"data":{"name":"d"},"mark":"point","encoding":{"x":{"field":"Ins","type":"quantitative","scale":{"domain":[-1.6,16.8]},"axis":{"values":[0,5,10,15],"title":null}},"y":{"field":"S2","type":"quantitative","scale":{"domain":[0,15]},"axis":{"values":[2,4,6,8,10,12,14],"title":null}}}},
{"data":{"values":[{"x":-1.6,"y":4.37},{"x":16.8,"y":9.38}]},"mark":{"type":"line","clip":true},"encoding":{"x":{"field":"x","type":"quantitative","axis":{"orient":"top","values":[0,5,10,15],"title":null}},"y":{"field":"y","type":"quantitative","axis":{"orient":"right","values":[2,4,6,8,10,12,14],"title":null}}}},
{"mark":{"type":"text","align":"left","baseline":"alphabetic","dx":17,"dy":43,"fontSize":26,"fontWeight":"bold"},"encoding":{"x":{"datum":-1.6,"axis":null},"y":{"datum":15,"axis":null},"text":{"field":"t"}}},
{"mark":{"type":"text","align":"left","baseline":"alphabetic","dx":69,"dy":33,"fontSize":22,"fontWeight":"bold"},"encoding":{"x":{"datum":-1.6,"axis":null},"y":{"datum":15,"axis":null},"text":{"field":"s"}}}
]},
{"width":532,"height":270,"data":{"values":[{"b0":3,"b1":4,"n":18},{"b0":4,"b1":5,"n":18},{"b0":5,"b1":6,"n":40},{"b0":6,"b1":7,"n":72},{"b0":7,"b1":8,"n":40},{"b0":8,"b1":9,"n":25},{"b0":9,"b1":10,"n":18},{"b0":10,"b1":11,"n":9},{"b0":11,"b1":12,"n":12}]},"resolve":{"scale":{"y":"independent"},"axis":{"x":"independent","y":"independent"}},"layer":[
{"mark":{"type":"bar","clip":true},"encoding":{"x":{"field":"b0","type":"quantitative","scale":{"domain":[0,15]},"axis":{"values":[2,4,6,8,10,12,14],"title":null}},"x2":{"field":"b1"},"y":{"field":"n","type":"quantitative","scale":{"domain":[0,75.4]},"axis":null},"y2":{"datum":0}}},
{"mark":{"type":"point","opacity":0},"encoding":{"x":{"datum":7.5,"axis":{"orient":"top","values":[2,4,6,8,10,12,14],"title":null}},"y":{"datum":7.5,"scale":{"domain":[0,15]},"axis":{"values":[2,4,6,8,10,12,14],"title":null}}}},
{"mark":{"type":"point","opacity":0},"encoding":{"x":{"datum":7.5,"axis":null},"y":{"datum":7.5,"scale":{"domain":[0,15]},"axis":{"orient":"right","values":[2,4,6,8,10,12,14],"title":null}}}}
]},
{"width":532,"height":270,"data":{"values":[{"t":"0.52","s":"**"}]},"resolve":{"axis":{"x":"independent","y":"independent"}},"layer":[
{"data":{"name":"d"},"mark":"point","encoding":{"x":{"field":"S1","type":"quantitative","scale":{"domain":[-1.35,13.05]},"axis":{"values":[0,2,4,6,8,10,12],"title":null}},"y":{"field":"S2","type":"quantitative","scale":{"domain":[0,15]},"axis":{"values":[2,4,6,8,10,12,14],"title":null}}}},
{"data":{"values":[{"x":-1.35,"y":3.18},{"x":13.05,"y":10.95}]},"mark":{"type":"line","clip":true},"encoding":{"x":{"field":"x","type":"quantitative","axis":{"orient":"top","values":[0,2,4,6,8,10,12],"title":null}},"y":{"field":"y","type":"quantitative","axis":{"orient":"right","values":[2,4,6,8,10,12,14],"title":null}}}},
{"mark":{"type":"text","align":"left","baseline":"alphabetic","dx":17,"dy":43,"fontSize":26,"fontWeight":"bold"},"encoding":{"x":{"datum":-1.35,"axis":null},"y":{"datum":15,"axis":null},"text":{"field":"t"}}},
{"mark":{"type":"text","align":"left","baseline":"alphabetic","dx":69,"dy":33,"fontSize":22,"fontWeight":"bold"},"encoding":{"x":{"datum":-1.35,"axis":null},"y":{"datum":15,"axis":null},"text":{"field":"s"}}}
]},
{"width":532,"height":270,"data":{"values":[{"t":"0.37","s":"**"}]},"resolve":{"axis":{"x":"independent","y":"independent"}},"layer":[
{"data":{"name":"d"},"mark":"point","encoding":{"x":{"field":"Conq","type":"quantitative","scale":{"domain":[-1.72,23.25]},"axis":{"values":[0,5,10,15,20],"title":null}},"y":{"field":"S2","type":"quantitative","scale":{"domain":[0,15]},"axis":{"values":[2,4,6,8,10,12,14],"title":null}}}},
{"data":{"values":[{"x":-1.72,"y":4.11},{"x":23.25,"y":9.63}]},"mark":{"type":"line","clip":true},"encoding":{"x":{"field":"x","type":"quantitative","axis":{"orient":"top","values":[0,5,10,15,20],"title":null}},"y":{"field":"y","type":"quantitative","axis":{"orient":"right","values":[2,4,6,8,10,12,14],"title":null}}}},
{"mark":{"type":"text","align":"left","baseline":"alphabetic","dx":17,"dy":43,"fontSize":26,"fontWeight":"bold"},"encoding":{"x":{"datum":-1.72,"axis":null},"y":{"datum":15,"axis":null},"text":{"field":"t"}}},
{"mark":{"type":"text","align":"left","baseline":"alphabetic","dx":69,"dy":33,"fontSize":22,"fontWeight":"bold"},"encoding":{"x":{"datum":-1.72,"axis":null},"y":{"datum":15,"axis":null},"text":{"field":"s"}}}
]},
{"width":532,"height":270,"data":{"values":[{"t":"0.10","s":""}]},"resolve":{"axis":{"x":"independent","y":"independent"}},"layer":[
{"data":{"name":"d"},"mark":"point","encoding":{"x":{"field":"Phy","type":"quantitative","scale":{"domain":[2.2,21.9]},"axis":{"values":[5,10,15,20],"title":null}},"y":{"field":"S2","type":"quantitative","scale":{"domain":[0,15]},"axis":{"values":[2,4,6,8,10,12,14],"title":null}}}},
{"data":{"values":[{"x":2.2,"y":5.9},{"x":21.9,"y":7.32}]},"mark":{"type":"line","clip":true},"encoding":{"x":{"field":"x","type":"quantitative","axis":{"orient":"top","values":[5,10,15,20],"title":null}},"y":{"field":"y","type":"quantitative","axis":{"orient":"right","values":[2,4,6,8,10,12,14],"title":null}}}},
{"mark":{"type":"text","align":"left","baseline":"alphabetic","dx":17,"dy":43,"fontSize":26,"fontWeight":"bold","color":"#FF0000"},"encoding":{"x":{"datum":2.2,"axis":null},"y":{"datum":15,"axis":null},"text":{"field":"t"}}}
]},
{"width":532,"height":270,"data":{"values":[{"t":"0.16","s":"*"}]},"resolve":{"axis":{"x":"independent","y":"independent"}},"layer":[
{"data":{"name":"d"},"mark":"point","encoding":{"x":{"field":"Cof","type":"quantitative","scale":{"domain":[-1.95,12.94]},"axis":{"values":[0,2,4,6,8,10,12],"title":null}},"y":{"field":"S2","type":"quantitative","scale":{"domain":[0,15]},"axis":{"values":[2,4,6,8,10,12,14],"title":null}}}},
{"data":{"values":[{"x":-1.95,"y":5.51},{"x":12.94,"y":7.9}]},"mark":{"type":"line","clip":true},"encoding":{"x":{"field":"x","type":"quantitative","axis":{"orient":"top","values":[0,2,4,6,8,10,12],"title":null}},"y":{"field":"y","type":"quantitative","axis":{"orient":"right","values":[2,4,6,8,10,12,14],"title":null}}}},
{"mark":{"type":"text","align":"left","baseline":"alphabetic","dx":17,"dy":43,"fontSize":26,"fontWeight":"bold"},"encoding":{"x":{"datum":-1.95,"axis":null},"y":{"datum":15,"axis":null},"text":{"field":"t"}}},
{"mark":{"type":"text","align":"left","baseline":"alphabetic","dx":69,"dy":33,"fontSize":22,"fontWeight":"bold"},"encoding":{"x":{"datum":-1.95,"axis":null},"y":{"datum":15,"axis":null},"text":{"field":"s"}}}
]},

{"width":532,"height":270,"data":{"values":[{"t":"0.44","s":"**"}]},"resolve":{"axis":{"x":"independent","y":"independent"}},"layer":[
{"data":{"name":"d"},"mark":"point","encoding":{"x":{"field":"MSQR","type":"quantitative","scale":{"domain":[8.4,59.7]},"axis":{"values":[10,20,30,40,50],"title":null}},"y":{"field":"S1","type":"quantitative","scale":{"domain":[-1.35,13.05]},"axis":{"values":[0,5,10],"title":null,"labels":true}}}},
{"data":{"values":[{"x":8.4,"y":2.18},{"x":59.7,"y":8.44}]},"mark":{"type":"line","clip":true},"encoding":{"x":{"field":"x","type":"quantitative","axis":{"orient":"top","values":[10,20,30,40,50],"title":null}},"y":{"field":"y","type":"quantitative","axis":{"orient":"right","values":[0,5,10],"title":null}}}},
{"mark":{"type":"text","align":"left","baseline":"alphabetic","dx":17,"dy":43,"fontSize":26,"fontWeight":"bold"},"encoding":{"x":{"datum":8.4,"axis":null},"y":{"datum":13.05,"axis":null},"text":{"field":"t"}}},
{"mark":{"type":"text","align":"left","baseline":"alphabetic","dx":69,"dy":33,"fontSize":22,"fontWeight":"bold"},"encoding":{"x":{"datum":8.4,"axis":null},"y":{"datum":13.05,"axis":null},"text":{"field":"s"}}},
{"data":{"values":[{"m":"STAI","s":"1N"}]},"layer":[{"mark":{"type":"text","angle":270,"align":"left","baseline":"alphabetic","dx":-43.9,"dy":-110,"fontSize":28},"encoding":{"x":{"datum":8.4,"axis":null},"y":{"datum":5.85,"axis":null},"text":{"field":"m"}}},{"mark":{"type":"text","angle":270,"align":"left","baseline":"alphabetic","dx":18.3,"dy":-95,"fontSize":20},"encoding":{"x":{"datum":8.4,"axis":null},"y":{"datum":5.85,"axis":null},"text":{"field":"s"}}}]}
]},
{"width":532,"height":270,"data":{"values":[{"t":"0.33","s":"**"}]},"resolve":{"axis":{"x":"independent","y":"independent"}},"layer":[
{"data":{"name":"d"},"mark":"point","encoding":{"x":{"field":"Ins","type":"quantitative","scale":{"domain":[-1.6,16.8]},"axis":{"values":[0,5,10,15],"title":null}},"y":{"field":"S1","type":"quantitative","scale":{"domain":[-1.35,13.05]},"axis":{"values":[0,5,10],"title":null}}}},
{"data":{"values":[{"x":-1.6,"y":2.85},{"x":16.8,"y":7.53}]},"mark":{"type":"line","clip":true},"encoding":{"x":{"field":"x","type":"quantitative","axis":{"orient":"top","values":[0,5,10,15],"title":null}},"y":{"field":"y","type":"quantitative","axis":{"orient":"right","values":[0,5,10],"title":null}}}},
{"mark":{"type":"text","align":"left","baseline":"alphabetic","dx":17,"dy":43,"fontSize":26,"fontWeight":"bold"},"encoding":{"x":{"datum":-1.6,"axis":null},"y":{"datum":13.05,"axis":null},"text":{"field":"t"}}},
{"mark":{"type":"text","align":"left","baseline":"alphabetic","dx":69,"dy":33,"fontSize":22,"fontWeight":"bold"},"encoding":{"x":{"datum":-1.6,"axis":null},"y":{"datum":13.05,"axis":null},"text":{"field":"s"}}}
]},
{"width":532,"height":270,"data":{"values":[{"t":"0.52","s":"**"}]},"resolve":{"axis":{"x":"independent","y":"independent"}},"layer":[
{"data":{"name":"d"},"mark":"point","encoding":{"x":{"field":"S2","type":"quantitative","scale":{"domain":[0,15]},"axis":{"values":[2,4,6,8,10,12,14],"title":null}},"y":{"field":"S1","type":"quantitative","scale":{"domain":[-1.35,13.05]},"axis":{"values":[0,5,10],"title":null}}}},
{"data":{"values":[{"x":0,"y":1.65},{"x":15,"y":9.15}]},"mark":{"type":"line","clip":true},"encoding":{"x":{"field":"x","type":"quantitative","axis":{"orient":"top","values":[2,4,6,8,10,12,14],"title":null}},"y":{"field":"y","type":"quantitative","axis":{"orient":"right","values":[0,5,10],"title":null}}}},
{"mark":{"type":"text","align":"left","baseline":"alphabetic","dx":17,"dy":43,"fontSize":26,"fontWeight":"bold"},"encoding":{"x":{"datum":0,"axis":null},"y":{"datum":13.05,"axis":null},"text":{"field":"t"}}},
{"mark":{"type":"text","align":"left","baseline":"alphabetic","dx":69,"dy":33,"fontSize":22,"fontWeight":"bold"},"encoding":{"x":{"datum":0,"axis":null},"y":{"datum":13.05,"axis":null},"text":{"field":"s"}}}
]},
{"width":532,"height":270,"data":{"values":[{"b0":3,"b1":4,"n":78},{"b0":4,"b1":5,"n":48},{"b0":5,"b1":6,"n":42},{"b0":6,"b1":7,"n":44},{"b0":7,"b1":8,"n":19},{"b0":8,"b1":9,"n":4},{"b0":9,"b1":10,"n":4},{"b0":10,"b1":11,"n":8},{"b0":11,"b1":12,"n":4}]},"resolve":{"scale":{"y":"independent"},"axis":{"x":"independent","y":"independent"}},"layer":[
{"mark":{"type":"bar","clip":true},"encoding":{"x":{"field":"b0","type":"quantitative","scale":{"domain":[-1.35,13.05]},"axis":{"values":[0,2,4,6,8,10,12],"title":null}},"x2":{"field":"b1"},"y":{"field":"n","type":"quantitative","scale":{"domain":[0,81.7]},"axis":null},"y2":{"datum":0}}},
{"mark":{"type":"point","opacity":0},"encoding":{"x":{"datum":5.85,"axis":{"orient":"top","values":[0,2,4,6,8,10,12],"title":null}},"y":{"datum":5.85,"scale":{"domain":[-1.35,13.05]},"axis":{"values":[0,5,10],"title":null}}}},
{"mark":{"type":"point","opacity":0},"encoding":{"x":{"datum":5.85,"axis":null},"y":{"datum":5.85,"scale":{"domain":[-1.35,13.05]},"axis":{"orient":"right","values":[0,5,10],"title":null}}}}
]},
{"width":532,"height":270,"data":{"values":[{"t":"0.37","s":"**"}]},"resolve":{"axis":{"x":"independent","y":"independent"}},"layer":[
{"data":{"name":"d"},"mark":"point","encoding":{"x":{"field":"Conq","type":"quantitative","scale":{"domain":[-1.72,23.25]},"axis":{"values":[0,5,10,15,20],"title":null}},"y":{"field":"S1","type":"quantitative","scale":{"domain":[-1.35,13.05]},"axis":{"values":[0,5,10],"title":null}}}},
{"data":{"values":[{"x":-1.72,"y":2.6},{"x":23.25,"y":7.87}]},"mark":{"type":"line","clip":true},"encoding":{"x":{"field":"x","type":"quantitative","axis":{"orient":"top","values":[0,5,10,15,20],"title":null}},"y":{"field":"y","type":"quantitative","axis":{"orient":"right","values":[0,5,10],"title":null}}}},
{"mark":{"type":"text","align":"left","baseline":"alphabetic","dx":17,"dy":43,"fontSize":26,"fontWeight":"bold"},"encoding":{"x":{"datum":-1.72,"axis":null},"y":{"datum":13.05,"axis":null},"text":{"field":"t"}}},
{"mark":{"type":"text","align":"left","baseline":"alphabetic","dx":69,"dy":33,"fontSize":22,"fontWeight":"bold"},"encoding":{"x":{"datum":-1.72,"axis":null},"y":{"datum":13.05,"axis":null},"text":{"field":"s"}}}
]},
{"width":532,"height":270,"data":{"values":[{"t":"0.08","s":""}]},"resolve":{"axis":{"x":"independent","y":"independent"}},"layer":[
{"data":{"name":"d"},"mark":"point","encoding":{"x":{"field":"Phy","type":"quantitative","scale":{"domain":[2.2,21.9]},"axis":{"values":[5,10,15,20],"title":null}},"y":{"field":"S1","type":"quantitative","scale":{"domain":[-1.35,13.05]},"axis":{"values":[0,5,10],"title":null}}}},
{"data":{"values":[{"x":2.2,"y":4.4},{"x":21.9,"y":5.54}]},"mark":{"type":"line","clip":true},"encoding":{"x":{"field":"x","type":"quantitative","axis":{"orient":"top","values":[5,10,15,20],"title":null}},"y":{"field":"y","type":"quantitative","axis":{"orient":"right","values":[0,5,10],"title":null}}}},
{"mark":{"type":"text","align":"left","baseline":"alphabetic","dx":17,"dy":43,"fontSize":26,"fontWeight":"bold","color":"#FF0000"},"encoding":{"x":{"datum":2.2,"axis":null},"y":{"datum":13.05,"axis":null},"text":{"field":"t"}}}
]},
{"width":532,"height":270,"data":{"values":[{"t":"0.28","s":"**"}]},"resolve":{"axis":{"x":"independent","y":"independent"}},"layer":[
{"data":{"name":"d"},"mark":"point","encoding":{"x":{"field":"Cof","type":"quantitative","scale":{"domain":[-1.95,12.94]},"axis":{"values":[0,2,4,6,8,10,12],"title":null}},"y":{"field":"S1","type":"quantitative","scale":{"domain":[-1.35,13.05]},"axis":{"values":[0,5,10],"title":null}}}},
{"data":{"values":[{"x":-1.95,"y":3.17},{"x":12.94,"y":7.19}]},"mark":{"type":"line","clip":true},"encoding":{"x":{"field":"x","type":"quantitative","axis":{"orient":"top","values":[0,2,4,6,8,10,12],"title":null}},"y":{"field":"y","type":"quantitative","axis":{"orient":"right","values":[0,5,10],"title":null}}}},
{"mark":{"type":"text","align":"left","baseline":"alphabetic","dx":17,"dy":43,"fontSize":26,"fontWeight":"bold"},"encoding":{"x":{"datum":-1.95,"axis":null},"y":{"datum":13.05,"axis":null},"text":{"field":"t"}}},
{"mark":{"type":"text","align":"left","baseline":"alphabetic","dx":69,"dy":33,"fontSize":22,"fontWeight":"bold"},"encoding":{"x":{"datum":-1.95,"axis":null},"y":{"datum":13.05,"axis":null},"text":{"field":"s"}}}
]},

{"width":532,"height":270,"data":{"values":[{"t":"0.78","s":"**"}]},"resolve":{"axis":{"x":"independent","y":"independent"}},"layer":[
{"data":{"name":"d"},"mark":"point","encoding":{"x":{"field":"MSQR","type":"quantitative","scale":{"domain":[8.4,59.7]},"axis":{"values":[10,20,30,40,50],"title":null}},"y":{"field":"Conq","type":"quantitative","scale":{"domain":[-1.72,23.25]},"axis":{"values":[0,5,10,15,20],"title":null,"labels":true}}}},
{"data":{"values":[{"x":8.4,"y":0.67},{"x":59.7,"y":20.18}]},"mark":{"type":"line","clip":true},"encoding":{"x":{"field":"x","type":"quantitative","axis":{"orient":"top","values":[10,20,30,40,50],"title":null}},"y":{"field":"y","type":"quantitative","axis":{"orient":"right","values":[0,5,10,15,20],"title":null}}}},
{"mark":{"type":"text","align":"left","baseline":"alphabetic","dx":17,"dy":43,"fontSize":26,"fontWeight":"bold"},"encoding":{"x":{"datum":8.4,"axis":null},"y":{"datum":23.25,"axis":null},"text":{"field":"t"}}},
{"mark":{"type":"text","align":"left","baseline":"alphabetic","dx":69,"dy":33,"fontSize":22,"fontWeight":"bold"},"encoding":{"x":{"datum":8.4,"axis":null},"y":{"datum":23.25,"axis":null},"text":{"field":"s"}}},
{"data":{"values":[{"m":"MSQ","s":"Conq"}]},"layer":[{"mark":{"type":"text","angle":270,"align":"left","baseline":"alphabetic","dx":-55.8,"dy":-110,"fontSize":28},"encoding":{"x":{"datum":8.4,"axis":null},"y":{"datum":10.765,"axis":null},"text":{"field":"m"}}},{"mark":{"type":"text","angle":270,"align":"left","baseline":"alphabetic","dx":8.0,"dy":-95,"fontSize":20},"encoding":{"x":{"datum":8.4,"axis":null},"y":{"datum":10.765,"axis":null},"text":{"field":"s"}}}]}
]},
{"width":532,"height":270,"data":{"values":[{"t":"0.71","s":"**"}]},"resolve":{"axis":{"x":"independent","y":"independent"}},"layer":[
{"data":{"name":"d"},"mark":"point","encoding":{"x":{"field":"Ins","type":"quantitative","scale":{"domain":[-1.6,16.8]},"axis":{"values":[0,5,10,15],"title":null}},"y":{"field":"Conq","type":"quantitative","scale":{"domain":[-1.72,23.25]},"axis":{"values":[0,5,10,15,20],"title":null}}}},
{"data":{"values":[{"x":-1.6,"y":1.33},{"x":16.8,"y":19.35}]},"mark":{"type":"line","clip":true},"encoding":{"x":{"field":"x","type":"quantitative","axis":{"orient":"top","values":[0,5,10,15],"title":null}},"y":{"field":"y","type":"quantitative","axis":{"orient":"right","values":[0,5,10,15,20],"title":null}}}},
{"mark":{"type":"text","align":"left","baseline":"alphabetic","dx":17,"dy":43,"fontSize":26,"fontWeight":"bold"},"encoding":{"x":{"datum":-1.6,"axis":null},"y":{"datum":23.25,"axis":null},"text":{"field":"t"}}},
{"mark":{"type":"text","align":"left","baseline":"alphabetic","dx":69,"dy":33,"fontSize":22,"fontWeight":"bold"},"encoding":{"x":{"datum":-1.6,"axis":null},"y":{"datum":23.25,"axis":null},"text":{"field":"s"}}}
]},
{"width":532,"height":270,"data":{"values":[{"t":"0.37","s":"**"}]},"resolve":{"axis":{"x":"independent","y":"independent"}},"layer":[
{"data":{"name":"d"},"mark":"point","encoding":{"x":{"field":"S2","type":"quantitative","scale":{"domain":[0,15]},"axis":{"values":[2,4,6,8,10,12,14],"title":null}},"y":{"field":"Conq","type":"quantitative","scale":{"domain":[-1.72,23.25]},"axis":{"values":[0,5,10,15,20],"title":null}}}},
{"data":{"values":[{"x":0,"y":4.97},{"x":15,"y":14.32}]},"mark":{"type":"line","clip":true},"encoding":{"x":{"field":"x","type":"quantitative","axis":{"orient":"top","values":[2,4,6,8,10,12,14],"title":null}},"y":{"field":"y","type":"quantitative","axis":{"orient":"right","values":[0,5,10,15,20],"title":null}}}},
{"mark":{"type":"text","align":"left","baseline":"alphabetic","dx":17,"dy":43,"fontSize":26,"fontWeight":"bold"},"encoding":{"x":{"datum":0,"axis":null},"y":{"datum":23.25,"axis":null},"text":{"field":"t"}}},
{"mark":{"type":"text","align":"left","baseline":"alphabetic","dx":69,"dy":33,"fontSize":22,"fontWeight":"bold"},"encoding":{"x":{"datum":0,"axis":null},"y":{"datum":23.25,"axis":null},"text":{"field":"s"}}}
]},
{"width":532,"height":270,"data":{"values":[{"t":"0.37","s":"**"}]},"resolve":{"axis":{"x":"independent","y":"independent"}},"layer":[
{"data":{"name":"d"},"mark":"point","encoding":{"x":{"field":"S1","type":"quantitative","scale":{"domain":[-1.35,13.05]},"axis":{"values":[0,2,4,6,8,10,12],"title":null}},"y":{"field":"Conq","type":"quantitative","scale":{"domain":[-1.72,23.25]},"axis":{"values":[0,5,10,15,20],"title":null}}}},
{"data":{"values":[{"x":-1.35,"y":5.13},{"x":13.05,"y":14.29}]},"mark":{"type":"line","clip":true},"encoding":{"x":{"field":"x","type":"quantitative","axis":{"orient":"top","values":[0,2,4,6,8,10,12],"title":null}},"y":{"field":"y","type":"quantitative","axis":{"orient":"right","values":[0,5,10,15,20],"title":null}}}},
{"mark":{"type":"text","align":"left","baseline":"alphabetic","dx":17,"dy":43,"fontSize":26,"fontWeight":"bold"},"encoding":{"x":{"datum":-1.35,"axis":null},"y":{"datum":23.25,"axis":null},"text":{"field":"t"}}},
{"mark":{"type":"text","align":"left","baseline":"alphabetic","dx":69,"dy":33,"fontSize":22,"fontWeight":"bold"},"encoding":{"x":{"datum":-1.35,"axis":null},"y":{"datum":23.25,"axis":null},"text":{"field":"s"}}}
]},
{"width":532,"height":270,"data":{"values":[{"b0":2,"b1":4,"n":16},{"b0":4,"b1":6,"n":19},{"b0":6,"b1":8,"n":49},{"b0":8,"b1":10,"n":57},{"b0":10,"b1":12,"n":44},{"b0":12,"b1":14,"n":39},{"b0":14,"b1":16,"n":17},{"b0":16,"b1":18,"n":7}]},"resolve":{"scale":{"y":"independent"},"axis":{"x":"independent","y":"independent"}},"layer":[
{"mark":{"type":"bar","clip":true},"encoding":{"x":{"field":"b0","type":"quantitative","scale":{"domain":[-1.72,23.25]},"axis":{"values":[0,5,10,15,20],"title":null}},"x2":{"field":"b1"},"y":{"field":"n","type":"quantitative","scale":{"domain":[0,59.7]},"axis":null},"y2":{"datum":0}}},
{"mark":{"type":"point","opacity":0},"encoding":{"x":{"datum":10.765,"axis":{"orient":"top","values":[0,5,10,15,20],"title":null}},"y":{"datum":10.765,"scale":{"domain":[-1.72,23.25]},"axis":{"values":[0,5,10,15,20],"title":null}}}},
{"mark":{"type":"point","opacity":0},"encoding":{"x":{"datum":10.765,"axis":null},"y":{"datum":10.765,"scale":{"domain":[-1.72,23.25]},"axis":{"orient":"right","values":[0,5,10,15,20],"title":null}}}}
]},
{"width":532,"height":270,"data":{"values":[{"t":"0.27","s":"**"}]},"resolve":{"axis":{"x":"independent","y":"independent"}},"layer":[
{"data":{"name":"d"},"mark":"point","encoding":{"x":{"field":"Phy","type":"quantitative","scale":{"domain":[2.2,21.9]},"axis":{"values":[5,10,15,20],"title":null}},"y":{"field":"Conq","type":"quantitative","scale":{"domain":[-1.72,23.25]},"axis":{"values":[0,5,10,15,20],"title":null}}}},
{"data":{"values":[{"x":2.2,"y":6.02},{"x":21.9,"y":12.8}]},"mark":{"type":"line","clip":true},"encoding":{"x":{"field":"x","type":"quantitative","axis":{"orient":"top","values":[5,10,15,20],"title":null}},"y":{"field":"y","type":"quantitative","axis":{"orient":"right","values":[0,5,10,15,20],"title":null}}}},
{"mark":{"type":"text","align":"left","baseline":"alphabetic","dx":17,"dy":43,"fontSize":26,"fontWeight":"bold"},"encoding":{"x":{"datum":2.2,"axis":null},"y":{"datum":23.25,"axis":null},"text":{"field":"t"}}},
{"mark":{"type":"text","align":"left","baseline":"alphabetic","dx":69,"dy":33,"fontSize":22,"fontWeight":"bold"},"encoding":{"x":{"datum":2.2,"axis":null},"y":{"datum":23.25,"axis":null},"text":{"field":"s"}}}
]},
{"width":532,"height":270,"data":{"values":[{"t":"0.18","s":"**"}]},"resolve":{"axis":{"x":"independent","y":"independent"}},"layer":[
{"data":{"name":"d"},"mark":"point","encoding":{"x":{"field":"Cof","type":"quantitative","scale":{"domain":[-1.95,12.94]},"axis":{"values":[0,2,4,6,8,10,12],"title":null}},"y":{"field":"Conq","type":"quantitative","scale":{"domain":[-1.72,23.25]},"axis":{"values":[0,5,10,15,20],"title":null}}}},
{"data":{"values":[{"x":-1.95,"y":7.22},{"x":12.94,"y":11.58}]},"mark":{"type":"line","clip":true},"encoding":{"x":{"field":"x","type":"quantitative","axis":{"orient":"top","values":[0,2,4,6,8,10,12],"title":null}},"y":{"field":"y","type":"quantitative","axis":{"orient":"right","values":[0,5,10,15,20],"title":null}}}},
{"mark":{"type":"text","align":"left","baseline":"alphabetic","dx":17,"dy":43,"fontSize":26,"fontWeight":"bold"},"encoding":{"x":{"datum":-1.95,"axis":null},"y":{"datum":23.25,"axis":null},"text":{"field":"t"}}},
{"mark":{"type":"text","align":"left","baseline":"alphabetic","dx":69,"dy":33,"fontSize":22,"fontWeight":"bold"},"encoding":{"x":{"datum":-1.95,"axis":null},"y":{"datum":23.25,"axis":null},"text":{"field":"s"}}}
]},

{"width":532,"height":270,"data":{"values":[{"t":"0.57","s":"**"}]},"resolve":{"axis":{"x":"independent","y":"independent"}},"layer":[
{"data":{"name":"d"},"mark":"point","encoding":{"x":{"field":"MSQR","type":"quantitative","scale":{"domain":[8.4,59.7]},"axis":{"values":[10,20,30,40,50],"title":null}},"y":{"field":"Phy","type":"quantitative","scale":{"domain":[2.2,21.9]},"axis":{"values":[5,10,15,20],"title":null,"labels":true}}}},
{"data":{"values":[{"x":8.4,"y":5.84},{"x":59.7,"y":17.2}]},"mark":{"type":"line","clip":true},"encoding":{"x":{"field":"x","type":"quantitative","axis":{"orient":"top","values":[10,20,30,40,50],"title":null}},"y":{"field":"y","type":"quantitative","axis":{"orient":"right","values":[5,10,15,20],"title":null}}}},
{"mark":{"type":"text","align":"left","baseline":"alphabetic","dx":17,"dy":43,"fontSize":26,"fontWeight":"bold"},"encoding":{"x":{"datum":8.4,"axis":null},"y":{"datum":21.9,"axis":null},"text":{"field":"t"}}},
{"mark":{"type":"text","align":"left","baseline":"alphabetic","dx":69,"dy":33,"fontSize":22,"fontWeight":"bold"},"encoding":{"x":{"datum":8.4,"axis":null},"y":{"datum":21.9,"axis":null},"text":{"field":"s"}}},
{"data":{"values":[{"m":"MSQ","s":"Phy"}]},"layer":[{"mark":{"type":"text","angle":270,"align":"left","baseline":"alphabetic","dx":-49.1,"dy":-110,"fontSize":28},"encoding":{"x":{"datum":8.4,"axis":null},"y":{"datum":12.05,"axis":null},"text":{"field":"m"}}},{"mark":{"type":"text","angle":270,"align":"left","baseline":"alphabetic","dx":14.7,"dy":-95,"fontSize":20},"encoding":{"x":{"datum":8.4,"axis":null},"y":{"datum":12.05,"axis":null},"text":{"field":"s"}}}]}
]},
{"width":532,"height":270,"data":{"values":[{"t":"0.28","s":"**"}]},"resolve":{"axis":{"x":"independent","y":"independent"}},"layer":[
{"data":{"name":"d"},"mark":"point","encoding":{"x":{"field":"Ins","type":"quantitative","scale":{"domain":[-1.6,16.8]},"axis":{"values":[0,5,10,15],"title":null}},"y":{"field":"Phy","type":"quantitative","scale":{"domain":[2.2,21.9]},"axis":{"values":[5,10,15,20],"title":null}}}},
{"data":{"values":[{"x":-1.6,"y":8.3},{"x":16.8,"y":13.93}]},"mark":{"type":"line","clip":true},"encoding":{"x":{"field":"x","type":"quantitative","axis":{"orient":"top","values":[0,5,10,15],"title":null}},"y":{"field":"y","type":"quantitative","axis":{"orient":"right","values":[5,10,15,20],"title":null}}}},
{"mark":{"type":"text","align":"left","baseline":"alphabetic","dx":17,"dy":43,"fontSize":26,"fontWeight":"bold"},"encoding":{"x":{"datum":-1.6,"axis":null},"y":{"datum":21.9,"axis":null},"text":{"field":"t"}}},
{"mark":{"type":"text","align":"left","baseline":"alphabetic","dx":69,"dy":33,"fontSize":22,"fontWeight":"bold"},"encoding":{"x":{"datum":-1.6,"axis":null},"y":{"datum":21.9,"axis":null},"text":{"field":"s"}}}
]},
{"width":532,"height":270,"data":{"values":[{"t":"0.10","s":""}]},"resolve":{"axis":{"x":"independent","y":"independent"}},"layer":[
{"data":{"name":"d"},"mark":"point","encoding":{"x":{"field":"S2","type":"quantitative","scale":{"domain":[0,15]},"axis":{"values":[2,4,6,8,10,12,14],"title":null}},"y":{"field":"Phy","type":"quantitative","scale":{"domain":[2.2,21.9]},"axis":{"values":[5,10,15,20],"title":null}}}},
{"data":{"values":[{"x":0,"y":9.94},{"x":15,"y":11.87}]},"mark":{"type":"line","clip":true},"encoding":{"x":{"field":"x","type":"quantitative","axis":{"orient":"top","values":[2,4,6,8,10,12,14],"title":null}},"y":{"field":"y","type":"quantitative","axis":{"orient":"right","values":[5,10,15,20],"title":null}}}},
{"mark":{"type":"text","align":"left","baseline":"alphabetic","dx":17,"dy":43,"fontSize":26,"fontWeight":"bold","color":"#FF0000"},"encoding":{"x":{"datum":0,"axis":null},"y":{"datum":21.9,"axis":null},"text":{"field":"t"}}}
]},
{"width":532,"height":270,"data":{"values":[{"t":"0.08","s":""}]},"resolve":{"axis":{"x":"independent","y":"independent"}},"layer":[
{"data":{"name":"d"},"mark":"point","encoding":{"x":{"field":"S1","type":"quantitative","scale":{"domain":[-1.35,13.05]},"axis":{"values":[0,2,4,6,8,10,12],"title":null}},"y":{"field":"Phy","type":"quantitative","scale":{"domain":[2.2,21.9]},"axis":{"values":[5,10,15,20],"title":null}}}},
{"data":{"values":[{"x":-1.35,"y":10.1},{"x":13.05,"y":11.6}]},"mark":{"type":"line","clip":true},"encoding":{"x":{"field":"x","type":"quantitative","axis":{"orient":"top","values":[0,2,4,6,8,10,12],"title":null}},"y":{"field":"y","type":"quantitative","axis":{"orient":"right","values":[5,10,15,20],"title":null}}}},
{"mark":{"type":"text","align":"left","baseline":"alphabetic","dx":17,"dy":43,"fontSize":26,"fontWeight":"bold","color":"#FF0000"},"encoding":{"x":{"datum":-1.35,"axis":null},"y":{"datum":21.9,"axis":null},"text":{"field":"t"}}}
]},
{"width":532,"height":270,"data":{"values":[{"t":"0.27","s":"**"}]},"resolve":{"axis":{"x":"independent","y":"independent"}},"layer":[
{"data":{"name":"d"},"mark":"point","encoding":{"x":{"field":"Conq","type":"quantitative","scale":{"domain":[-1.72,23.25]},"axis":{"values":[0,5,10,15,20],"title":null}},"y":{"field":"Phy","type":"quantitative","scale":{"domain":[2.2,21.9]},"axis":{"values":[5,10,15,20],"title":null}}}},
{"data":{"values":[{"x":-1.72,"y":8.43},{"x":23.25,"y":13.9}]},"mark":{"type":"line","clip":true},"encoding":{"x":{"field":"x","type":"quantitative","axis":{"orient":"top","values":[0,5,10,15,20],"title":null}},"y":{"field":"y","type":"quantitative","axis":{"orient":"right","values":[5,10,15,20],"title":null}}}},
{"mark":{"type":"text","align":"left","baseline":"alphabetic","dx":17,"dy":43,"fontSize":26,"fontWeight":"bold"},"encoding":{"x":{"datum":-1.72,"axis":null},"y":{"datum":21.9,"axis":null},"text":{"field":"t"}}},
{"mark":{"type":"text","align":"left","baseline":"alphabetic","dx":69,"dy":33,"fontSize":22,"fontWeight":"bold"},"encoding":{"x":{"datum":-1.72,"axis":null},"y":{"datum":21.9,"axis":null},"text":{"field":"s"}}}
]},
{"width":532,"height":270,"data":{"values":[{"b0":3,"b1":4,"n":1},{"b0":4,"b1":5,"n":3},{"b0":5,"b1":6,"n":2},{"b0":6,"b1":7,"n":10},{"b0":7,"b1":8,"n":15},{"b0":8,"b1":9,"n":18},{"b0":9,"b1":10,"n":22},{"b0":10,"b1":11,"n":37},{"b0":11,"b1":12,"n":43},{"b0":12,"b1":13,"n":40},{"b0":13,"b1":14,"n":23},{"b0":14,"b1":15,"n":15},{"b0":15,"b1":16,"n":5},{"b0":16,"b1":17,"n":4},{"b0":17,"b1":18,"n":5}]},"resolve":{"scale":{"y":"independent"},"axis":{"x":"independent","y":"independent"}},"layer":[
{"mark":{"type":"bar","clip":true},"encoding":{"x":{"field":"b0","type":"quantitative","scale":{"domain":[2.2,21.9]},"axis":{"values":[5,10,15,20],"title":null}},"x2":{"field":"b1"},"y":{"field":"n","type":"quantitative","scale":{"domain":[0,45]},"axis":null},"y2":{"datum":0}}},
{"mark":{"type":"point","opacity":0},"encoding":{"x":{"datum":12.05,"axis":{"orient":"top","values":[5,10,15,20],"title":null}},"y":{"datum":12.05,"scale":{"domain":[2.2,21.9]},"axis":{"values":[5,10,15,20],"title":null}}}},
{"mark":{"type":"point","opacity":0},"encoding":{"x":{"datum":12.05,"axis":null},"y":{"datum":12.05,"scale":{"domain":[2.2,21.9]},"axis":{"orient":"right","values":[5,10,15,20],"title":null}}}}
]},
{"width":532,"height":270,"data":{"values":[{"t":"0.18","s":"**"}]},"resolve":{"axis":{"x":"independent","y":"independent"}},"layer":[
{"data":{"name":"d"},"mark":"point","encoding":{"x":{"field":"Cof","type":"quantitative","scale":{"domain":[-1.95,12.94]},"axis":{"values":[0,2,4,6,8,10,12],"title":null}},"y":{"field":"Phy","type":"quantitative","scale":{"domain":[2.2,21.9]},"axis":{"values":[5,10,15,20],"title":null}}}},
{"data":{"values":[{"x":-1.95,"y":9.23},{"x":12.94,"y":12.79}]},"mark":{"type":"line","clip":true},"encoding":{"x":{"field":"x","type":"quantitative","axis":{"orient":"top","values":[0,2,4,6,8,10,12],"title":null}},"y":{"field":"y","type":"quantitative","axis":{"orient":"right","values":[5,10,15,20],"title":null}}}},
{"mark":{"type":"text","align":"left","baseline":"alphabetic","dx":17,"dy":43,"fontSize":26,"fontWeight":"bold"},"encoding":{"x":{"datum":-1.95,"axis":null},"y":{"datum":21.9,"axis":null},"text":{"field":"t"}}},
{"mark":{"type":"text","align":"left","baseline":"alphabetic","dx":69,"dy":33,"fontSize":22,"fontWeight":"bold"},"encoding":{"x":{"datum":-1.95,"axis":null},"y":{"datum":21.9,"axis":null},"text":{"field":"s"}}}
]},

{"width":532,"height":270,"data":{"values":[{"t":"0.49","s":"**"}]},"resolve":{"axis":{"x":"independent","y":"independent"}},"layer":[
{"data":{"name":"d"},"mark":"point","encoding":{"x":{"field":"MSQR","type":"quantitative","scale":{"domain":[8.4,59.7]},"axis":{"values":[10,20,30,40,50],"title":null,"labels":true}},"y":{"field":"Cof","type":"quantitative","scale":{"domain":[-1.95,12.94]},"axis":{"values":[0,5,10],"title":null,"labels":true}}}},
{"data":{"values":[{"x":8.4,"y":1.32},{"x":59.7,"y":8.62}]},"mark":{"type":"line","clip":true},"encoding":{"x":{"field":"x","type":"quantitative","axis":{"orient":"top","values":[10,20,30,40,50],"title":null}},"y":{"field":"y","type":"quantitative","axis":{"orient":"right","values":[0,5,10],"title":null}}}},
{"mark":{"type":"text","align":"left","baseline":"alphabetic","dx":17,"dy":43,"fontSize":26,"fontWeight":"bold"},"encoding":{"x":{"datum":8.4,"axis":null},"y":{"datum":12.94,"axis":null},"text":{"field":"t"}}},
{"mark":{"type":"text","align":"left","baseline":"alphabetic","dx":69,"dy":33,"fontSize":22,"fontWeight":"bold"},"encoding":{"x":{"datum":8.4,"axis":null},"y":{"datum":12.94,"axis":null},"text":{"field":"s"}}},
{"data":{"values":[{"m":"MSQ","s":"Cof"}]},"layer":[{"mark":{"type":"text","angle":270,"align":"left","baseline":"alphabetic","dx":-47.4,"dy":-110,"fontSize":28},"encoding":{"x":{"datum":8.4,"axis":null},"y":{"datum":5.495,"axis":null},"text":{"field":"m"}}},{"mark":{"type":"text","angle":270,"align":"left","baseline":"alphabetic","dx":16.4,"dy":-95,"fontSize":20},"encoding":{"x":{"datum":8.4,"axis":null},"y":{"datum":5.495,"axis":null},"text":{"field":"s"}}}]},
{"data":{"values":[{"m":"MSQR","l2":"Result"}]},"layer":[{"mark":{"type":"text","align":"center","baseline":"alphabetic","dy":74,"fontSize":29,"fontWeight":"bold","color":"#000080"},"encoding":{"x":{"datum":34.05,"axis":null},"y":{"datum":-1.95,"axis":null},"text":{"field":"m"}}},{"mark":{"type":"text","align":"center","baseline":"alphabetic","dy":108,"fontSize":29,"fontWeight":"bold","color":"#000080"},"encoding":{"x":{"datum":34.05,"axis":null},"y":{"datum":-1.95,"axis":null},"text":{"field":"l2"}}}]}
]},
{"width":532,"height":270,"data":{"values":[{"t":"0.21","s":"**"}]},"resolve":{"axis":{"x":"independent","y":"independent"}},"layer":[
{"data":{"name":"d"},"mark":"point","encoding":{"x":{"field":"Ins","type":"quantitative","scale":{"domain":[-1.6,16.8]},"axis":{"values":[0,5,10,15],"title":null,"labels":true}},"y":{"field":"Cof","type":"quantitative","scale":{"domain":[-1.95,12.94]},"axis":{"values":[0,5,10],"title":null}}}},
{"data":{"values":[{"x":-1.6,"y":3.08},{"x":16.8,"y":6.24}]},"mark":{"type":"line","clip":true},"encoding":{"x":{"field":"x","type":"quantitative","axis":{"orient":"top","values":[0,5,10,15],"title":null}},"y":{"field":"y","type":"quantitative","axis":{"orient":"right","values":[0,5,10],"title":null}}}},
{"mark":{"type":"text","align":"left","baseline":"alphabetic","dx":17,"dy":43,"fontSize":26,"fontWeight":"bold"},"encoding":{"x":{"datum":-1.6,"axis":null},"y":{"datum":12.94,"axis":null},"text":{"field":"t"}}},
{"mark":{"type":"text","align":"left","baseline":"alphabetic","dx":69,"dy":33,"fontSize":22,"fontWeight":"bold"},"encoding":{"x":{"datum":-1.6,"axis":null},"y":{"datum":12.94,"axis":null},"text":{"field":"s"}}},
{"data":{"values":[{"m":"Ins","s":"Per","l2":"Insomnia-Perception"}]},"layer":[{"mark":{"type":"text","align":"left","baseline":"alphabetic","dx":-37,"dy":79,"fontSize":29,"fontWeight":"bold","color":"#000080"},"encoding":{"x":{"datum":7.6,"axis":null},"y":{"datum":-1.95,"axis":null},"text":{"field":"m"}}},{"mark":{"type":"text","align":"left","baseline":"alphabetic","dx":4.9,"dy":94,"fontSize":20,"fontWeight":"bold","color":"#000080"},"encoding":{"x":{"datum":7.6,"axis":null},"y":{"datum":-1.95,"axis":null},"text":{"field":"s"}}},{"mark":{"type":"text","align":"center","baseline":"alphabetic","dy":127,"fontSize":29,"fontWeight":"bold","color":"#000080"},"encoding":{"x":{"datum":7.6,"axis":null},"y":{"datum":-1.95,"axis":null},"text":{"field":"l2"}}}]}
]},
{"width":532,"height":270,"data":{"values":[{"t":"0.16","s":"*"}]},"resolve":{"axis":{"x":"independent","y":"independent"}},"layer":[
{"data":{"name":"d"},"mark":"point","encoding":{"x":{"field":"S2","type":"quantitative","scale":{"domain":[0,15]},"axis":{"values":[2,4,6,8,10,12,14],"title":null,"labels":true}},"y":{"field":"Cof","type":"quantitative","scale":{"domain":[-1.95,12.94]},"axis":{"values":[0,5,10],"title":null}}}},
{"data":{"values":[{"x":0,"y":3.45},{"x":15,"y":5.83}]},"mark":{"type":"line","clip":true},"encoding":{"x":{"field":"x","type":"quantitative","axis":{"orient":"top","values":[2,4,6,8,10,12,14],"title":null}},"y":{"field":"y","type":"quantitative","axis":{"orient":"right","values":[0,5,10],"title":null}}}},
{"mark":{"type":"text","align":"left","baseline":"alphabetic","dx":17,"dy":43,"fontSize":26,"fontWeight":"bold"},"encoding":{"x":{"datum":0,"axis":null},"y":{"datum":12.94,"axis":null},"text":{"field":"t"}}},
{"mark":{"type":"text","align":"left","baseline":"alphabetic","dx":69,"dy":33,"fontSize":22,"fontWeight":"bold"},"encoding":{"x":{"datum":0,"axis":null},"y":{"datum":12.94,"axis":null},"text":{"field":"s"}}},
{"data":{"values":[{"m":"STAI","s":"2N","l2":"TRAIT-Anxiety"}]},"layer":[{"mark":{"type":"text","align":"left","baseline":"alphabetic","dx":-45.8,"dy":79,"fontSize":29,"fontWeight":"bold","color":"#000080"},"encoding":{"x":{"datum":7.5,"axis":null},"y":{"datum":-1.95,"axis":null},"text":{"field":"m"}}},{"mark":{"type":"text","align":"left","baseline":"alphabetic","dx":20.3,"dy":94,"fontSize":20,"fontWeight":"bold","color":"#000080"},"encoding":{"x":{"datum":7.5,"axis":null},"y":{"datum":-1.95,"axis":null},"text":{"field":"s"}}},{"mark":{"type":"text","align":"center","baseline":"alphabetic","dy":127,"fontSize":29,"fontWeight":"bold","color":"#000080"},"encoding":{"x":{"datum":7.5,"axis":null},"y":{"datum":-1.95,"axis":null},"text":{"field":"l2"}}}]}
]},
{"width":532,"height":270,"data":{"values":[{"t":"0.28","s":"**"}]},"resolve":{"axis":{"x":"independent","y":"independent"}},"layer":[
{"data":{"name":"d"},"mark":"point","encoding":{"x":{"field":"S1","type":"quantitative","scale":{"domain":[-1.35,13.05]},"axis":{"values":[0,2,4,6,8,10,12],"title":null,"labels":true}},"y":{"field":"Cof","type":"quantitative","scale":{"domain":[-1.95,12.94]},"axis":{"values":[0,5,10],"title":null}}}},
{"data":{"values":[{"x":-1.35,"y":2.64},{"x":13.05,"y":6.88}]},"mark":{"type":"line","clip":true},"encoding":{"x":{"field":"x","type":"quantitative","axis":{"orient":"top","values":[0,2,4,6,8,10,12],"title":null}},"y":{"field":"y","type":"quantitative","axis":{"orient":"right","values":[0,5,10],"title":null}}}},
{"mark":{"type":"text","align":"left","baseline":"alphabetic","dx":17,"dy":43,"fontSize":26,"fontWeight":"bold"},"encoding":{"x":{"datum":-1.35,"axis":null},"y":{"datum":12.94,"axis":null},"text":{"field":"t"}}},
{"mark":{"type":"text","align":"left","baseline":"alphabetic","dx":69,"dy":33,"fontSize":22,"fontWeight":"bold"},"encoding":{"x":{"datum":-1.35,"axis":null},"y":{"datum":12.94,"axis":null},"text":{"field":"s"}}},
{"data":{"values":[{"m":"STAI","s":"1N","l2":"STRAIT-Anxiety"}]},"layer":[{"mark":{"type":"text","align":"left","baseline":"alphabetic","dx":-45.8,"dy":79,"fontSize":29,"fontWeight":"bold","color":"#000080"},"encoding":{"x":{"datum":5.85,"axis":null},"y":{"datum":-1.95,"axis":null},"text":{"field":"m"}}},{"mark":{"type":"text","align":"left","baseline":"alphabetic","dx":20.3,"dy":94,"fontSize":20,"fontWeight":"bold","color":"#000080"},"encoding":{"x":{"datum":5.85,"axis":null},"y":{"datum":-1.95,"axis":null},"text":{"field":"s"}}},{"mark":{"type":"text","align":"center","baseline":"alphabetic","dy":127,"fontSize":29,"fontWeight":"bold","color":"#000080"},"encoding":{"x":{"datum":5.85,"axis":null},"y":{"datum":-1.95,"axis":null},"text":{"field":"l2"}}}]}
]},
{"width":532,"height":270,"data":{"values":[{"t":"0.18","s":"**"}]},"resolve":{"axis":{"x":"independent","y":"independent"}},"layer":[
{"data":{"name":"d"},"mark":"point","encoding":{"x":{"field":"Conq","type":"quantitative","scale":{"domain":[-1.72,23.25]},"axis":{"values":[0,5,10,15,20],"title":null,"labels":true}},"y":{"field":"Cof","type":"quantitative","scale":{"domain":[-1.95,12.94]},"axis":{"values":[0,5,10],"title":null}}}},
{"data":{"values":[{"x":-1.72,"y":3.34},{"x":23.25,"y":5.96}]},"mark":{"type":"line","clip":true},"encoding":{"x":{"field":"x","type":"quantitative","axis":{"orient":"top","values":[0,5,10,15,20],"title":null}},"y":{"field":"y","type":"quantitative","axis":{"orient":"right","values":[0,5,10],"title":null}}}},
{"mark":{"type":"text","align":"left","baseline":"alphabetic","dx":17,"dy":43,"fontSize":26,"fontWeight":"bold"},"encoding":{"x":{"datum":-1.72,"axis":null},"y":{"datum":12.94,"axis":null},"text":{"field":"t"}}},
{"mark":{"type":"text","align":"left","baseline":"alphabetic","dx":69,"dy":33,"fontSize":22,"fontWeight":"bold"},"encoding":{"x":{"datum":-1.72,"axis":null},"y":{"datum":12.94,"axis":null},"text":{"field":"s"}}},
{"data":{"values":[{"m":"MSQ","s":"Conq","l2":"Insomnia-Consequences"}]},"layer":[{"mark":{"type":"text","align":"left","baseline":"alphabetic","dx":-58.6,"dy":79,"fontSize":29,"fontWeight":"bold","color":"#000080"},"encoding":{"x":{"datum":10.765,"axis":null},"y":{"datum":-1.95,"axis":null},"text":{"field":"m"}}},{"mark":{"type":"text","align":"left","baseline":"alphabetic","dx":7.5,"dy":94,"fontSize":20,"fontWeight":"bold","color":"#000080"},"encoding":{"x":{"datum":10.765,"axis":null},"y":{"datum":-1.95,"axis":null},"text":{"field":"s"}}},{"mark":{"type":"text","align":"center","baseline":"alphabetic","dy":127,"fontSize":29,"fontWeight":"bold","color":"#000080"},"encoding":{"x":{"datum":10.765,"axis":null},"y":{"datum":-1.95,"axis":null},"text":{"field":"l2"}}}]}
]},
{"width":532,"height":270,"data":{"values":[{"t":"0.18","s":"**"}]},"resolve":{"axis":{"x":"independent","y":"independent"}},"layer":[
{"data":{"name":"d"},"mark":"point","encoding":{"x":{"field":"Phy","type":"quantitative","scale":{"domain":[2.2,21.9]},"axis":{"values":[5,10,15,20],"title":null,"labels":true}},"y":{"field":"Cof","type":"quantitative","scale":{"domain":[-1.95,12.94]},"axis":{"values":[0,5,10],"title":null}}}},
{"data":{"values":[{"x":2.2,"y":3.3},{"x":21.9,"y":6.0}]},"mark":{"type":"line","clip":true},"encoding":{"x":{"field":"x","type":"quantitative","axis":{"orient":"top","values":[5,10,15,20],"title":null}},"y":{"field":"y","type":"quantitative","axis":{"orient":"right","values":[0,5,10],"title":null}}}},
{"mark":{"type":"text","align":"left","baseline":"alphabetic","dx":17,"dy":43,"fontSize":26,"fontWeight":"bold"},"encoding":{"x":{"datum":2.2,"axis":null},"y":{"datum":12.94,"axis":null},"text":{"field":"t"}}},
{"mark":{"type":"text","align":"left","baseline":"alphabetic","dx":69,"dy":33,"fontSize":22,"fontWeight":"bold"},"encoding":{"x":{"datum":2.2,"axis":null},"y":{"datum":12.94,"axis":null},"text":{"field":"s"}}},
{"data":{"values":[{"m":"MSQ","s":"Phy","l2":"Insomnia-Physiological","l3":"Factors"}]},"layer":[{"mark":{"type":"text","align":"left","baseline":"alphabetic","dx":-51.4,"dy":79,"fontSize":29,"fontWeight":"bold","color":"#000080"},"encoding":{"x":{"datum":12.05,"axis":null},"y":{"datum":-1.95,"axis":null},"text":{"field":"m"}}},{"mark":{"type":"text","align":"left","baseline":"alphabetic","dx":14.7,"dy":94,"fontSize":20,"fontWeight":"bold","color":"#000080"},"encoding":{"x":{"datum":12.05,"axis":null},"y":{"datum":-1.95,"axis":null},"text":{"field":"s"}}},{"mark":{"type":"text","align":"center","baseline":"alphabetic","dy":127,"fontSize":29,"fontWeight":"bold","color":"#000080"},"encoding":{"x":{"datum":12.05,"axis":null},"y":{"datum":-1.95,"axis":null},"text":{"field":"l2"}}},{"mark":{"type":"text","align":"center","baseline":"alphabetic","dy":160,"fontSize":29,"fontWeight":"bold","color":"#000080"},"encoding":{"x":{"datum":12.05,"axis":null},"y":{"datum":-1.95,"axis":null},"text":{"field":"l3"}}}]}
]},
{"width":532,"height":270,"data":{"values":[{"b0":2,"b1":3,"n":54},{"b0":3,"b1":4,"n":41},{"b0":4,"b1":5,"n":24},{"b0":5,"b1":6,"n":70},{"b0":6,"b1":7,"n":29},{"b0":7,"b1":8,"n":14},{"b0":8,"b1":9,"n":11},{"b0":9,"b1":10,"n":0},{"b0":10,"b1":11,"n":6},{"b0":11,"b1":12,"n":2}]},"resolve":{"scale":{"y":"independent"},"axis":{"x":"independent","y":"independent"}},"layer":[
{"mark":{"type":"bar","clip":true},"encoding":{"x":{"field":"b0","type":"quantitative","scale":{"domain":[-1.95,12.94]},"axis":{"values":[0,2,4,6,8,10,12],"title":null,"labels":true}},"x2":{"field":"b1"},"y":{"field":"n","type":"quantitative","scale":{"domain":[0,73.3]},"axis":null},"y2":{"datum":0}}},
{"mark":{"type":"point","opacity":0},"encoding":{"x":{"datum":5.495,"axis":{"orient":"top","values":[0,2,4,6,8,10,12],"title":null}},"y":{"datum":5.495,"scale":{"domain":[-1.95,12.94]},"axis":{"values":[0,5,10],"title":null}}}},
{"mark":{"type":"point","opacity":0},"encoding":{"x":{"datum":5.495,"axis":null},"y":{"datum":5.495,"scale":{"domain":[-1.95,12.94]},"axis":{"orient":"right","values":[0,5,10],"title":null}}}},
{"data":{"values":[{"m":"MSQ","s":"Cof","l2":"Insomnia-Confounding","l3":"Factors"}]},"layer":[{"mark":{"type":"text","align":"left","baseline":"alphabetic","dx":-49.7,"dy":79,"fontSize":29,"fontWeight":"bold","color":"#000080"},"encoding":{"x":{"datum":5.495,"axis":null},"y":{"datum":-1.95,"scale":{"domain":[-1.95,12.94]},"axis":null},"text":{"field":"m"}}},{"mark":{"type":"text","align":"left","baseline":"alphabetic","dx":16.4,"dy":94,"fontSize":20,"fontWeight":"bold","color":"#000080"},"encoding":{"x":{"datum":5.495,"axis":null},"y":{"datum":-1.95,"scale":{"domain":[-1.95,12.94]},"axis":null},"text":{"field":"s"}}},{"mark":{"type":"text","align":"center","baseline":"alphabetic","dy":127,"fontSize":29,"fontWeight":"bold","color":"#000080"},"encoding":{"x":{"datum":5.495,"axis":null},"y":{"datum":-1.95,"scale":{"domain":[-1.95,12.94]},"axis":null},"text":{"field":"l2"}}},{"mark":{"type":"text","align":"center","baseline":"alphabetic","dy":160,"fontSize":29,"fontWeight":"bold","color":"#000080"},"encoding":{"x":{"datum":5.495,"axis":null},"y":{"datum":-1.95,"scale":{"domain":[-1.95,12.94]},"axis":null},"text":{"field":"l3"}}}]}
]}
],
"config":{
"view":{"stroke":"#1A1A1A","strokeWidth":2},
"axis":{"domain":false,"grid":false,"labels":false,"tickSize":-7,"tickWidth":1.5,"tickColor":"#1A1A1A","labelFont":"Liberation Sans","labelFontSize":23,"labelColor":"#000000","labelFlush":false,"labelOverlap":false},
"axisBottom":{"labelPadding":30},
"axisLeft":{"labelPadding":19},
"point":{"filled":false,"color":"#0000FF","size":32,"strokeWidth":1.5},
"line":{"color":"#FF00FF","strokeWidth":2},
"bar":{"color":"#6666FF","stroke":"#00E5FF","strokeWidth":1.5},
"text":{"font":"Liberation Sans","color":"#000000"}
}
}
